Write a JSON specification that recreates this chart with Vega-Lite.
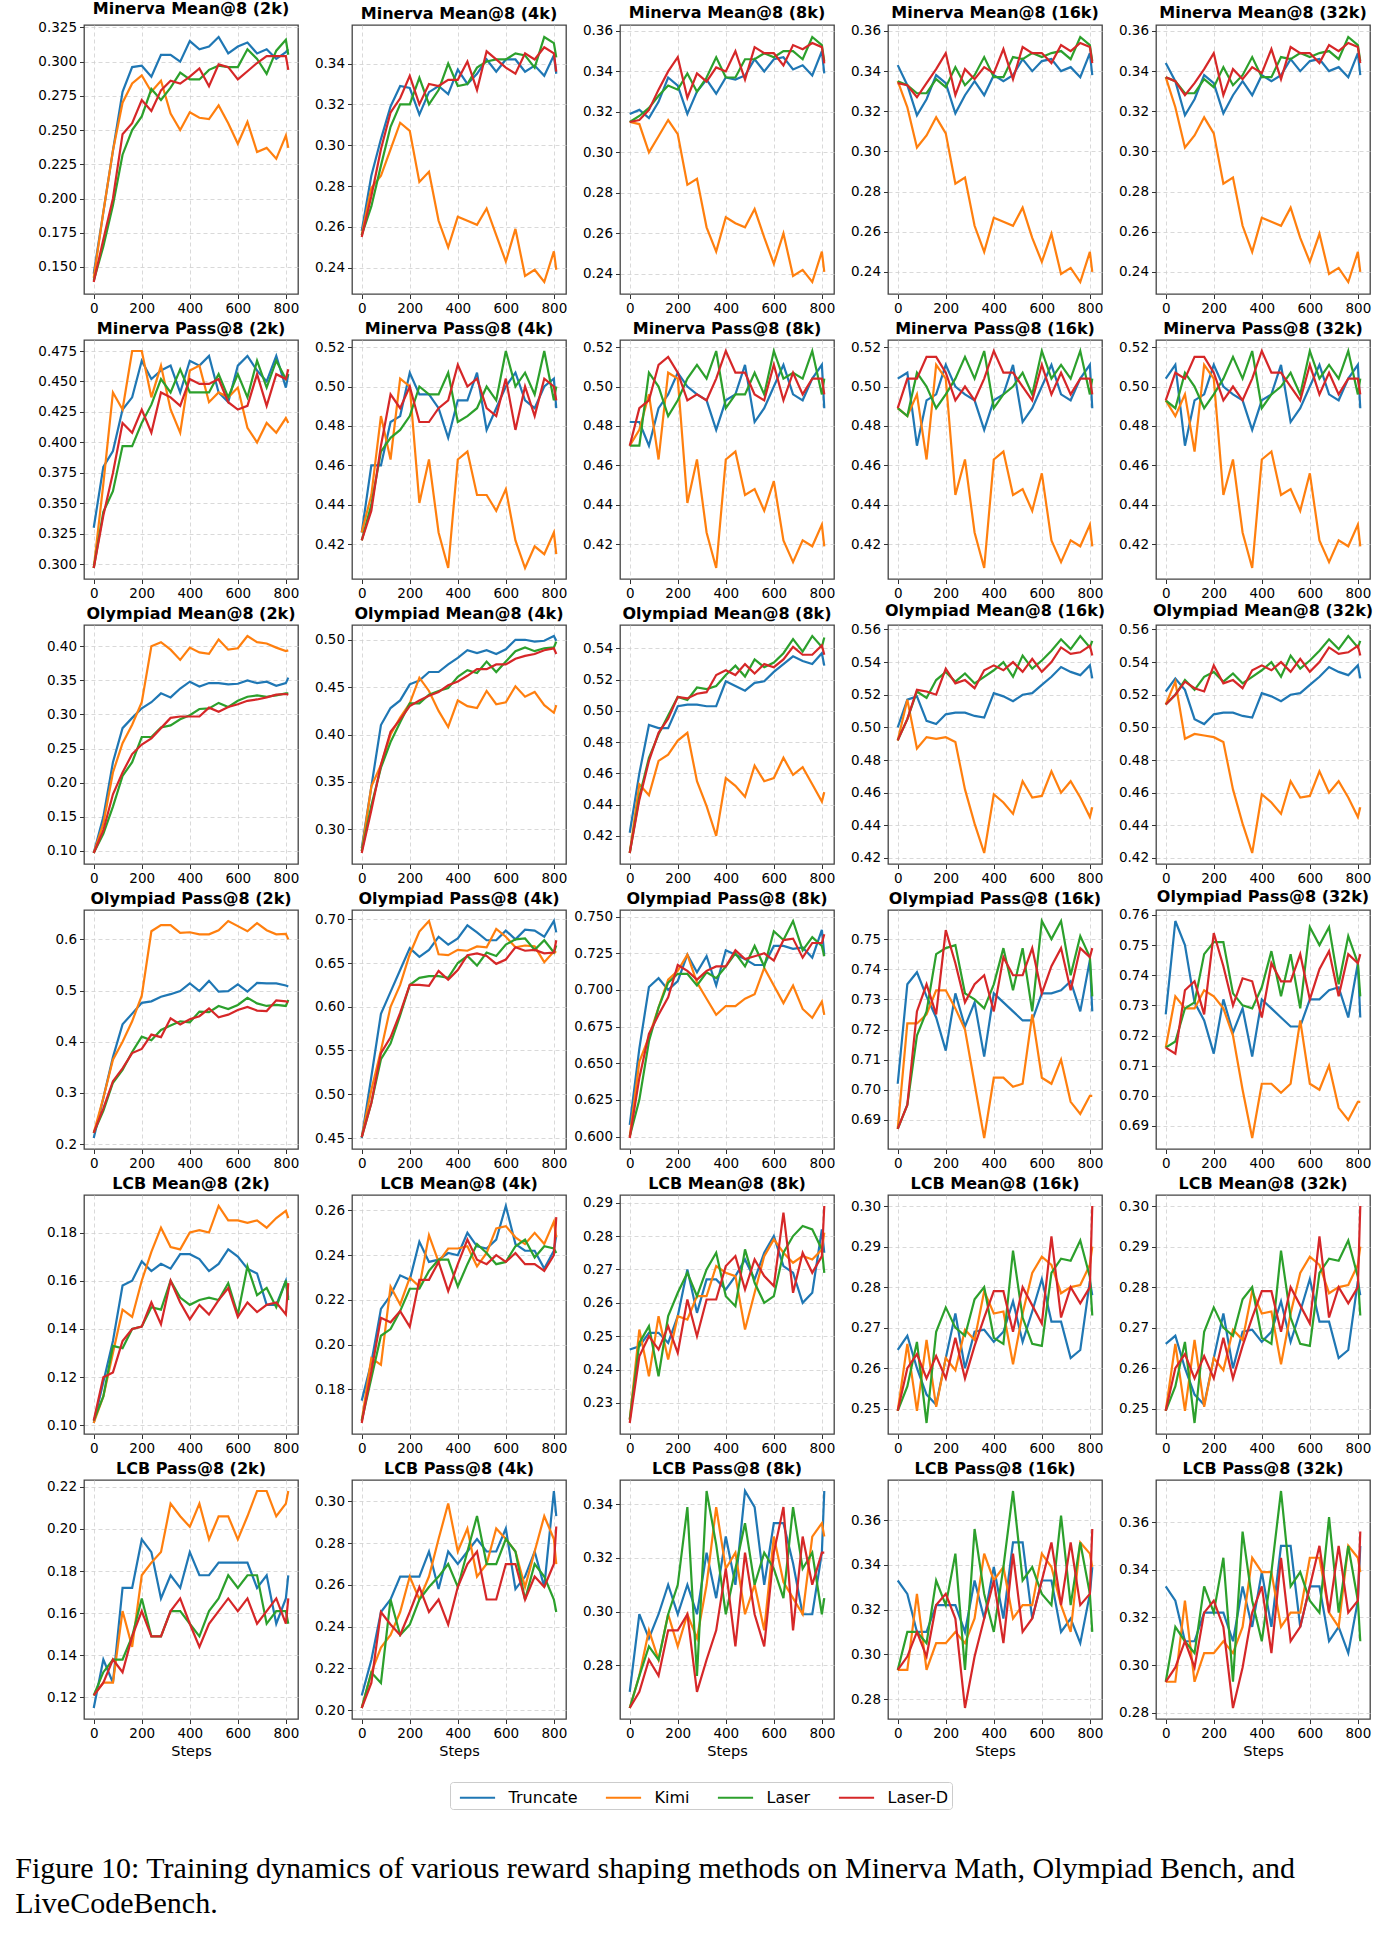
{"$schema":"https://vega.github.io/schema/vega-lite/v6.json",
"background":"white",
"padding":{"left":15,"top":0,"right":5,"bottom":5},
"bounds":"flush",
"align":"each",
"columns":5,
"spacing":{"row":46,"column":54},
"data":{"values":[
{"p":1,"x":0,"Truncate":0.145,"Kimi":0.142,"Laser":0.14,"Laser-D":0.139},
{"p":1,"x":40,"Truncate":0.19,"Kimi":0.19,"Laser":0.165,"Laser-D":0.17},
{"p":1,"x":80,"Truncate":0.235,"Kimi":0.235,"Laser":0.195,"Laser-D":0.2},
{"p":1,"x":120,"Truncate":0.278,"Kimi":0.27,"Laser":0.232,"Laser-D":0.247},
{"p":1,"x":160,"Truncate":0.296,"Kimi":0.284,"Laser":0.25,"Laser-D":0.255},
{"p":1,"x":200,"Truncate":0.297,"Kimi":0.29,"Laser":0.26,"Laser-D":0.272},
{"p":1,"x":240,"Truncate":0.289,"Kimi":0.278,"Laser":0.28,"Laser-D":0.264},
{"p":1,"x":280,"Truncate":0.305,"Kimi":0.286,"Laser":0.272,"Laser-D":0.279},
{"p":1,"x":320,"Truncate":0.305,"Kimi":0.262,"Laser":0.281,"Laser-D":0.286},
{"p":1,"x":360,"Truncate":0.3,"Kimi":0.25,"Laser":0.292,"Laser-D":0.284},
{"p":1,"x":400,"Truncate":0.315,"Kimi":0.263,"Laser":0.287,"Laser-D":0.289},
{"p":1,"x":440,"Truncate":0.309,"Kimi":0.259,"Laser":0.287,"Laser-D":0.295},
{"p":1,"x":480,"Truncate":0.311,"Kimi":0.258,"Laser":0.294,"Laser-D":0.282},
{"p":1,"x":520,"Truncate":0.318,"Kimi":0.268,"Laser":0.297,"Laser-D":0.298},
{"p":1,"x":560,"Truncate":0.306,"Kimi":0.255,"Laser":0.296,"Laser-D":0.296},
{"p":1,"x":600,"Truncate":0.311,"Kimi":0.24,"Laser":0.296,"Laser-D":0.287},
{"p":1,"x":640,"Truncate":0.314,"Kimi":0.256,"Laser":0.309,"Laser-D":0.293},
{"p":1,"x":680,"Truncate":0.306,"Kimi":0.234,"Laser":0.302,"Laser-D":0.299},
{"p":1,"x":720,"Truncate":0.309,"Kimi":0.237,"Laser":0.291,"Laser-D":0.304},
{"p":1,"x":760,"Truncate":0.302,"Kimi":0.229,"Laser":0.308,"Laser-D":0.304},
{"p":1,"x":800,"Truncate":0.307,"Kimi":0.246,"Laser":0.316,"Laser-D":0.304},
{"p":1,"x":810,"Truncate":0.309,"Kimi":0.237,"Laser":0.305,"Laser-D":0.294},
{"p":2,"x":0,"Truncate":0.258,"Kimi":0.256,"Laser":0.256,"Laser-D":0.255},
{"p":2,"x":40,"Truncate":0.285,"Kimi":0.279,"Laser":0.27,"Laser-D":0.275},
{"p":2,"x":80,"Truncate":0.303,"Kimi":0.285,"Laser":0.29,"Laser-D":0.298},
{"p":2,"x":120,"Truncate":0.319,"Kimi":0.298,"Laser":0.309,"Laser-D":0.316},
{"p":2,"x":160,"Truncate":0.329,"Kimi":0.311,"Laser":0.32,"Laser-D":0.323},
{"p":2,"x":200,"Truncate":0.328,"Kimi":0.307,"Laser":0.32,"Laser-D":0.334},
{"p":2,"x":240,"Truncate":0.315,"Kimi":0.282,"Laser":0.333,"Laser-D":0.32},
{"p":2,"x":280,"Truncate":0.326,"Kimi":0.287,"Laser":0.32,"Laser-D":0.33},
{"p":2,"x":320,"Truncate":0.329,"Kimi":0.263,"Laser":0.327,"Laser-D":0.329},
{"p":2,"x":360,"Truncate":0.325,"Kimi":0.25,"Laser":0.34,"Laser-D":0.332},
{"p":2,"x":400,"Truncate":0.337,"Kimi":0.265,"Laser":0.329,"Laser-D":0.332},
{"p":2,"x":440,"Truncate":0.33,"Kimi":0.263,"Laser":0.33,"Laser-D":0.341},
{"p":2,"x":480,"Truncate":0.335,"Kimi":0.261,"Laser":0.338,"Laser-D":0.327},
{"p":2,"x":520,"Truncate":0.342,"Kimi":0.269,"Laser":0.341,"Laser-D":0.346},
{"p":2,"x":560,"Truncate":0.336,"Kimi":0.256,"Laser":0.342,"Laser-D":0.342},
{"p":2,"x":600,"Truncate":0.342,"Kimi":0.243,"Laser":0.342,"Laser-D":0.338},
{"p":2,"x":640,"Truncate":0.342,"Kimi":0.259,"Laser":0.345,"Laser-D":0.335},
{"p":2,"x":680,"Truncate":0.336,"Kimi":0.236,"Laser":0.344,"Laser-D":0.345},
{"p":2,"x":720,"Truncate":0.339,"Kimi":0.239,"Laser":0.338,"Laser-D":0.342},
{"p":2,"x":760,"Truncate":0.334,"Kimi":0.233,"Laser":0.353,"Laser-D":0.348},
{"p":2,"x":800,"Truncate":0.344,"Kimi":0.248,"Laser":0.35,"Laser-D":0.345},
{"p":2,"x":810,"Truncate":0.335,"Kimi":0.239,"Laser":0.343,"Laser-D":0.336},
{"p":3,"x":0,"Truncate":0.319,"Kimi":0.315,"Laser":0.315,"Laser-D":0.315},
{"p":3,"x":40,"Truncate":0.321,"Kimi":0.314,"Laser":0.318,"Laser-D":0.316},
{"p":3,"x":80,"Truncate":0.317,"Kimi":0.3,"Laser":0.322,"Laser-D":0.321},
{"p":3,"x":120,"Truncate":0.325,"Kimi":0.308,"Laser":0.328,"Laser-D":0.331},
{"p":3,"x":160,"Truncate":0.337,"Kimi":0.316,"Laser":0.333,"Laser-D":0.34},
{"p":3,"x":200,"Truncate":0.333,"Kimi":0.309,"Laser":0.331,"Laser-D":0.347},
{"p":3,"x":240,"Truncate":0.319,"Kimi":0.284,"Laser":0.339,"Laser-D":0.327},
{"p":3,"x":280,"Truncate":0.33,"Kimi":0.287,"Laser":0.33,"Laser-D":0.339},
{"p":3,"x":320,"Truncate":0.336,"Kimi":0.263,"Laser":0.337,"Laser-D":0.335},
{"p":3,"x":360,"Truncate":0.329,"Kimi":0.251,"Laser":0.347,"Laser-D":0.342},
{"p":3,"x":400,"Truncate":0.337,"Kimi":0.268,"Laser":0.337,"Laser-D":0.34},
{"p":3,"x":440,"Truncate":0.336,"Kimi":0.265,"Laser":0.337,"Laser-D":0.35},
{"p":3,"x":480,"Truncate":0.338,"Kimi":0.263,"Laser":0.346,"Laser-D":0.336},
{"p":3,"x":520,"Truncate":0.346,"Kimi":0.272,"Laser":0.346,"Laser-D":0.352},
{"p":3,"x":560,"Truncate":0.34,"Kimi":0.258,"Laser":0.349,"Laser-D":0.349},
{"p":3,"x":600,"Truncate":0.346,"Kimi":0.245,"Laser":0.347,"Laser-D":0.349},
{"p":3,"x":640,"Truncate":0.347,"Kimi":0.26,"Laser":0.35,"Laser-D":0.343},
{"p":3,"x":680,"Truncate":0.341,"Kimi":0.239,"Laser":0.35,"Laser-D":0.353},
{"p":3,"x":720,"Truncate":0.343,"Kimi":0.242,"Laser":0.346,"Laser-D":0.351},
{"p":3,"x":760,"Truncate":0.338,"Kimi":0.236,"Laser":0.357,"Laser-D":0.354},
{"p":3,"x":800,"Truncate":0.35,"Kimi":0.251,"Laser":0.353,"Laser-D":0.352},
{"p":3,"x":810,"Truncate":0.339,"Kimi":0.241,"Laser":0.345,"Laser-D":0.344},
{"p":4,"x":0,"Truncate":0.343,"Kimi":0.335,"Laser":0.335,"Laser-D":0.334},
{"p":4,"x":40,"Truncate":0.333,"Kimi":0.322,"Laser":0.333,"Laser-D":0.333},
{"p":4,"x":80,"Truncate":0.318,"Kimi":0.302,"Laser":0.329,"Laser-D":0.327},
{"p":4,"x":120,"Truncate":0.326,"Kimi":0.308,"Laser":0.329,"Laser-D":0.334},
{"p":4,"x":160,"Truncate":0.338,"Kimi":0.317,"Laser":0.336,"Laser-D":0.341},
{"p":4,"x":200,"Truncate":0.334,"Kimi":0.309,"Laser":0.332,"Laser-D":0.349},
{"p":4,"x":240,"Truncate":0.319,"Kimi":0.284,"Laser":0.342,"Laser-D":0.328},
{"p":4,"x":280,"Truncate":0.328,"Kimi":0.287,"Laser":0.333,"Laser-D":0.341},
{"p":4,"x":320,"Truncate":0.335,"Kimi":0.263,"Laser":0.338,"Laser-D":0.336},
{"p":4,"x":360,"Truncate":0.328,"Kimi":0.25,"Laser":0.347,"Laser-D":0.342},
{"p":4,"x":400,"Truncate":0.338,"Kimi":0.267,"Laser":0.337,"Laser-D":0.339},
{"p":4,"x":440,"Truncate":0.335,"Kimi":0.265,"Laser":0.337,"Laser-D":0.351},
{"p":4,"x":480,"Truncate":0.338,"Kimi":0.263,"Laser":0.347,"Laser-D":0.336},
{"p":4,"x":520,"Truncate":0.346,"Kimi":0.272,"Laser":0.346,"Laser-D":0.352},
{"p":4,"x":560,"Truncate":0.34,"Kimi":0.257,"Laser":0.349,"Laser-D":0.349},
{"p":4,"x":600,"Truncate":0.345,"Kimi":0.245,"Laser":0.347,"Laser-D":0.349},
{"p":4,"x":640,"Truncate":0.346,"Kimi":0.259,"Laser":0.349,"Laser-D":0.344},
{"p":4,"x":680,"Truncate":0.34,"Kimi":0.239,"Laser":0.35,"Laser-D":0.353},
{"p":4,"x":720,"Truncate":0.342,"Kimi":0.242,"Laser":0.346,"Laser-D":0.35},
{"p":4,"x":760,"Truncate":0.337,"Kimi":0.235,"Laser":0.357,"Laser-D":0.354},
{"p":4,"x":800,"Truncate":0.349,"Kimi":0.25,"Laser":0.353,"Laser-D":0.352},
{"p":4,"x":810,"Truncate":0.338,"Kimi":0.24,"Laser":0.345,"Laser-D":0.344},
{"p":5,"x":0,"Truncate":0.344,"Kimi":0.337,"Laser":0.337,"Laser-D":0.337},
{"p":5,"x":40,"Truncate":0.335,"Kimi":0.322,"Laser":0.335,"Laser-D":0.335},
{"p":5,"x":80,"Truncate":0.318,"Kimi":0.302,"Laser":0.329,"Laser-D":0.328},
{"p":5,"x":120,"Truncate":0.326,"Kimi":0.308,"Laser":0.329,"Laser-D":0.334},
{"p":5,"x":160,"Truncate":0.338,"Kimi":0.317,"Laser":0.336,"Laser-D":0.341},
{"p":5,"x":200,"Truncate":0.334,"Kimi":0.309,"Laser":0.332,"Laser-D":0.349},
{"p":5,"x":240,"Truncate":0.319,"Kimi":0.284,"Laser":0.342,"Laser-D":0.328},
{"p":5,"x":280,"Truncate":0.328,"Kimi":0.287,"Laser":0.333,"Laser-D":0.341},
{"p":5,"x":320,"Truncate":0.335,"Kimi":0.263,"Laser":0.338,"Laser-D":0.336},
{"p":5,"x":360,"Truncate":0.328,"Kimi":0.25,"Laser":0.347,"Laser-D":0.342},
{"p":5,"x":400,"Truncate":0.338,"Kimi":0.267,"Laser":0.337,"Laser-D":0.339},
{"p":5,"x":440,"Truncate":0.335,"Kimi":0.265,"Laser":0.337,"Laser-D":0.351},
{"p":5,"x":480,"Truncate":0.338,"Kimi":0.263,"Laser":0.347,"Laser-D":0.336},
{"p":5,"x":520,"Truncate":0.346,"Kimi":0.272,"Laser":0.346,"Laser-D":0.352},
{"p":5,"x":560,"Truncate":0.34,"Kimi":0.257,"Laser":0.349,"Laser-D":0.349},
{"p":5,"x":600,"Truncate":0.345,"Kimi":0.245,"Laser":0.347,"Laser-D":0.349},
{"p":5,"x":640,"Truncate":0.346,"Kimi":0.259,"Laser":0.349,"Laser-D":0.344},
{"p":5,"x":680,"Truncate":0.34,"Kimi":0.239,"Laser":0.35,"Laser-D":0.353},
{"p":5,"x":720,"Truncate":0.342,"Kimi":0.242,"Laser":0.346,"Laser-D":0.35},
{"p":5,"x":760,"Truncate":0.337,"Kimi":0.235,"Laser":0.357,"Laser-D":0.354},
{"p":5,"x":800,"Truncate":0.349,"Kimi":0.25,"Laser":0.353,"Laser-D":0.352},
{"p":5,"x":810,"Truncate":0.338,"Kimi":0.24,"Laser":0.345,"Laser-D":0.344},
{"p":6,"x":0,"Truncate":0.33,"Kimi":0.297,"Laser":0.297,"Laser-D":0.297},
{"p":6,"x":40,"Truncate":0.38,"Kimi":0.366,"Laser":0.343,"Laser-D":0.34},
{"p":6,"x":80,"Truncate":0.393,"Kimi":0.441,"Laser":0.36,"Laser-D":0.375},
{"p":6,"x":120,"Truncate":0.427,"Kimi":0.427,"Laser":0.397,"Laser-D":0.416},
{"p":6,"x":160,"Truncate":0.437,"Kimi":0.475,"Laser":0.397,"Laser-D":0.408},
{"p":6,"x":200,"Truncate":0.467,"Kimi":0.475,"Laser":0.416,"Laser-D":0.427},
{"p":6,"x":240,"Truncate":0.452,"Kimi":0.437,"Laser":0.431,"Laser-D":0.408},
{"p":6,"x":280,"Truncate":0.459,"Kimi":0.463,"Laser":0.452,"Laser-D":0.441},
{"p":6,"x":320,"Truncate":0.463,"Kimi":0.427,"Laser":0.441,"Laser-D":0.437},
{"p":6,"x":360,"Truncate":0.441,"Kimi":0.408,"Laser":0.46,"Laser-D":0.43},
{"p":6,"x":400,"Truncate":0.467,"Kimi":0.459,"Laser":0.441,"Laser-D":0.452},
{"p":6,"x":440,"Truncate":0.463,"Kimi":0.463,"Laser":0.441,"Laser-D":0.448},
{"p":6,"x":480,"Truncate":0.471,"Kimi":0.433,"Laser":0.441,"Laser-D":0.448},
{"p":6,"x":520,"Truncate":0.441,"Kimi":0.441,"Laser":0.456,"Laser-D":0.452},
{"p":6,"x":560,"Truncate":0.433,"Kimi":0.437,"Laser":0.437,"Laser-D":0.433},
{"p":6,"x":600,"Truncate":0.463,"Kimi":0.445,"Laser":0.456,"Laser-D":0.427},
{"p":6,"x":640,"Truncate":0.471,"Kimi":0.412,"Laser":0.437,"Laser-D":0.43},
{"p":6,"x":680,"Truncate":0.459,"Kimi":0.4,"Laser":0.467,"Laser-D":0.456},
{"p":6,"x":720,"Truncate":0.45,"Kimi":0.416,"Laser":0.445,"Laser-D":0.43},
{"p":6,"x":760,"Truncate":0.471,"Kimi":0.408,"Laser":0.467,"Laser-D":0.456},
{"p":6,"x":800,"Truncate":0.445,"Kimi":0.42,"Laser":0.452,"Laser-D":0.452},
{"p":6,"x":810,"Truncate":0.456,"Kimi":0.416,"Laser":0.456,"Laser-D":0.46},
{"p":7,"x":0,"Truncate":0.426,"Kimi":0.426,"Laser":0.422,"Laser-D":0.422},
{"p":7,"x":40,"Truncate":0.46,"Kimi":0.445,"Laser":0.44,"Laser-D":0.437},
{"p":7,"x":80,"Truncate":0.46,"Kimi":0.485,"Laser":0.467,"Laser-D":0.47},
{"p":7,"x":120,"Truncate":0.482,"Kimi":0.463,"Laser":0.474,"Laser-D":0.496},
{"p":7,"x":160,"Truncate":0.485,"Kimi":0.504,"Laser":0.478,"Laser-D":0.489},
{"p":7,"x":200,"Truncate":0.507,"Kimi":0.5,"Laser":0.485,"Laser-D":0.5},
{"p":7,"x":240,"Truncate":0.496,"Kimi":0.441,"Laser":0.5,"Laser-D":0.482},
{"p":7,"x":280,"Truncate":0.496,"Kimi":0.463,"Laser":0.496,"Laser-D":0.482},
{"p":7,"x":320,"Truncate":0.489,"Kimi":0.426,"Laser":0.496,"Laser-D":0.489},
{"p":7,"x":360,"Truncate":0.474,"Kimi":0.408,"Laser":0.507,"Laser-D":0.493},
{"p":7,"x":400,"Truncate":0.493,"Kimi":0.463,"Laser":0.482,"Laser-D":0.511},
{"p":7,"x":440,"Truncate":0.493,"Kimi":0.467,"Laser":0.485,"Laser-D":0.5},
{"p":7,"x":480,"Truncate":0.507,"Kimi":0.445,"Laser":0.489,"Laser-D":0.504},
{"p":7,"x":520,"Truncate":0.478,"Kimi":0.445,"Laser":0.5,"Laser-D":0.489},
{"p":7,"x":560,"Truncate":0.489,"Kimi":0.437,"Laser":0.493,"Laser-D":0.485},
{"p":7,"x":600,"Truncate":0.5,"Kimi":0.448,"Laser":0.518,"Laser-D":0.504},
{"p":7,"x":640,"Truncate":0.507,"Kimi":0.422,"Laser":0.5,"Laser-D":0.478},
{"p":7,"x":680,"Truncate":0.493,"Kimi":0.408,"Laser":0.507,"Laser-D":0.5},
{"p":7,"x":720,"Truncate":0.489,"Kimi":0.419,"Laser":0.496,"Laser-D":0.485},
{"p":7,"x":760,"Truncate":0.5,"Kimi":0.415,"Laser":0.518,"Laser-D":0.504},
{"p":7,"x":800,"Truncate":0.504,"Kimi":0.426,"Laser":0.493,"Laser-D":0.5},
{"p":7,"x":810,"Truncate":0.489,"Kimi":0.415,"Laser":0.5,"Laser-D":0.493},
{"p":8,"x":0,"Truncate":0.482,"Kimi":0.47,"Laser":0.47,"Laser-D":0.47},
{"p":8,"x":40,"Truncate":0.482,"Kimi":0.478,"Laser":0.47,"Laser-D":0.489},
{"p":8,"x":80,"Truncate":0.47,"Kimi":0.496,"Laser":0.507,"Laser-D":0.493},
{"p":8,"x":120,"Truncate":0.489,"Kimi":0.463,"Laser":0.5,"Laser-D":0.511},
{"p":8,"x":160,"Truncate":0.496,"Kimi":0.507,"Laser":0.485,"Laser-D":0.515},
{"p":8,"x":200,"Truncate":0.507,"Kimi":0.504,"Laser":0.493,"Laser-D":0.507},
{"p":8,"x":240,"Truncate":0.5,"Kimi":0.441,"Laser":0.504,"Laser-D":0.493},
{"p":8,"x":280,"Truncate":0.496,"Kimi":0.463,"Laser":0.511,"Laser-D":0.496},
{"p":8,"x":320,"Truncate":0.493,"Kimi":0.426,"Laser":0.504,"Laser-D":0.493},
{"p":8,"x":360,"Truncate":0.478,"Kimi":0.408,"Laser":0.518,"Laser-D":0.504},
{"p":8,"x":400,"Truncate":0.493,"Kimi":0.463,"Laser":0.489,"Laser-D":0.518},
{"p":8,"x":440,"Truncate":0.496,"Kimi":0.467,"Laser":0.496,"Laser-D":0.507},
{"p":8,"x":480,"Truncate":0.511,"Kimi":0.445,"Laser":0.496,"Laser-D":0.507},
{"p":8,"x":520,"Truncate":0.482,"Kimi":0.448,"Laser":0.507,"Laser-D":0.496},
{"p":8,"x":560,"Truncate":0.489,"Kimi":0.437,"Laser":0.496,"Laser-D":0.493},
{"p":8,"x":600,"Truncate":0.5,"Kimi":0.452,"Laser":0.518,"Laser-D":0.511},
{"p":8,"x":640,"Truncate":0.511,"Kimi":0.422,"Laser":0.504,"Laser-D":0.493},
{"p":8,"x":680,"Truncate":0.496,"Kimi":0.411,"Laser":0.507,"Laser-D":0.507},
{"p":8,"x":720,"Truncate":0.493,"Kimi":0.422,"Laser":0.504,"Laser-D":0.496},
{"p":8,"x":760,"Truncate":0.504,"Kimi":0.419,"Laser":0.518,"Laser-D":0.504},
{"p":8,"x":800,"Truncate":0.511,"Kimi":0.43,"Laser":0.496,"Laser-D":0.504},
{"p":8,"x":810,"Truncate":0.489,"Kimi":0.419,"Laser":0.504,"Laser-D":0.496},
{"p":9,"x":0,"Truncate":0.504,"Kimi":0.489,"Laser":0.489,"Laser-D":0.489},
{"p":9,"x":40,"Truncate":0.507,"Kimi":0.485,"Laser":0.485,"Laser-D":0.504},
{"p":9,"x":80,"Truncate":0.47,"Kimi":0.496,"Laser":0.507,"Laser-D":0.504},
{"p":9,"x":120,"Truncate":0.493,"Kimi":0.463,"Laser":0.5,"Laser-D":0.515},
{"p":9,"x":160,"Truncate":0.496,"Kimi":0.511,"Laser":0.489,"Laser-D":0.515},
{"p":9,"x":200,"Truncate":0.511,"Kimi":0.504,"Laser":0.496,"Laser-D":0.507},
{"p":9,"x":240,"Truncate":0.5,"Kimi":0.445,"Laser":0.504,"Laser-D":0.493},
{"p":9,"x":280,"Truncate":0.496,"Kimi":0.463,"Laser":0.515,"Laser-D":0.5},
{"p":9,"x":320,"Truncate":0.493,"Kimi":0.426,"Laser":0.504,"Laser-D":0.493},
{"p":9,"x":360,"Truncate":0.478,"Kimi":0.408,"Laser":0.518,"Laser-D":0.504},
{"p":9,"x":400,"Truncate":0.493,"Kimi":0.463,"Laser":0.489,"Laser-D":0.518},
{"p":9,"x":440,"Truncate":0.496,"Kimi":0.467,"Laser":0.496,"Laser-D":0.507},
{"p":9,"x":480,"Truncate":0.511,"Kimi":0.445,"Laser":0.5,"Laser-D":0.507},
{"p":9,"x":520,"Truncate":0.482,"Kimi":0.448,"Laser":0.507,"Laser-D":0.5},
{"p":9,"x":560,"Truncate":0.489,"Kimi":0.437,"Laser":0.496,"Laser-D":0.493},
{"p":9,"x":600,"Truncate":0.5,"Kimi":0.456,"Laser":0.518,"Laser-D":0.511},
{"p":9,"x":640,"Truncate":0.511,"Kimi":0.422,"Laser":0.504,"Laser-D":0.496},
{"p":9,"x":680,"Truncate":0.496,"Kimi":0.411,"Laser":0.511,"Laser-D":0.507},
{"p":9,"x":720,"Truncate":0.493,"Kimi":0.422,"Laser":0.504,"Laser-D":0.496},
{"p":9,"x":760,"Truncate":0.504,"Kimi":0.419,"Laser":0.518,"Laser-D":0.504},
{"p":9,"x":800,"Truncate":0.511,"Kimi":0.43,"Laser":0.496,"Laser-D":0.504},
{"p":9,"x":810,"Truncate":0.489,"Kimi":0.419,"Laser":0.504,"Laser-D":0.496},
{"p":10,"x":0,"Truncate":0.504,"Kimi":0.493,"Laser":0.493,"Laser-D":0.493},
{"p":10,"x":40,"Truncate":0.511,"Kimi":0.485,"Laser":0.489,"Laser-D":0.507},
{"p":10,"x":80,"Truncate":0.47,"Kimi":0.496,"Laser":0.507,"Laser-D":0.504},
{"p":10,"x":120,"Truncate":0.493,"Kimi":0.467,"Laser":0.5,"Laser-D":0.515},
{"p":10,"x":160,"Truncate":0.496,"Kimi":0.511,"Laser":0.489,"Laser-D":0.515},
{"p":10,"x":200,"Truncate":0.511,"Kimi":0.504,"Laser":0.496,"Laser-D":0.507},
{"p":10,"x":240,"Truncate":0.5,"Kimi":0.445,"Laser":0.504,"Laser-D":0.493},
{"p":10,"x":280,"Truncate":0.496,"Kimi":0.463,"Laser":0.515,"Laser-D":0.5},
{"p":10,"x":320,"Truncate":0.493,"Kimi":0.426,"Laser":0.504,"Laser-D":0.493},
{"p":10,"x":360,"Truncate":0.478,"Kimi":0.408,"Laser":0.518,"Laser-D":0.504},
{"p":10,"x":400,"Truncate":0.493,"Kimi":0.463,"Laser":0.489,"Laser-D":0.518},
{"p":10,"x":440,"Truncate":0.496,"Kimi":0.467,"Laser":0.496,"Laser-D":0.507},
{"p":10,"x":480,"Truncate":0.511,"Kimi":0.445,"Laser":0.5,"Laser-D":0.507},
{"p":10,"x":520,"Truncate":0.482,"Kimi":0.448,"Laser":0.507,"Laser-D":0.5},
{"p":10,"x":560,"Truncate":0.489,"Kimi":0.437,"Laser":0.496,"Laser-D":0.493},
{"p":10,"x":600,"Truncate":0.5,"Kimi":0.456,"Laser":0.518,"Laser-D":0.511},
{"p":10,"x":640,"Truncate":0.511,"Kimi":0.422,"Laser":0.504,"Laser-D":0.496},
{"p":10,"x":680,"Truncate":0.496,"Kimi":0.411,"Laser":0.511,"Laser-D":0.507},
{"p":10,"x":720,"Truncate":0.493,"Kimi":0.422,"Laser":0.504,"Laser-D":0.496},
{"p":10,"x":760,"Truncate":0.504,"Kimi":0.419,"Laser":0.518,"Laser-D":0.504},
{"p":10,"x":800,"Truncate":0.511,"Kimi":0.43,"Laser":0.496,"Laser-D":0.504},
{"p":10,"x":810,"Truncate":0.489,"Kimi":0.419,"Laser":0.504,"Laser-D":0.496},
{"p":11,"x":0,"Truncate":0.097,"Kimi":0.097,"Laser":0.097,"Laser-D":0.097},
{"p":11,"x":40,"Truncate":0.15,"Kimi":0.14,"Laser":0.125,"Laser-D":0.13},
{"p":11,"x":80,"Truncate":0.23,"Kimi":0.215,"Laser":0.165,"Laser-D":0.183},
{"p":11,"x":120,"Truncate":0.28,"Kimi":0.258,"Laser":0.21,"Laser-D":0.215},
{"p":11,"x":160,"Truncate":0.295,"Kimi":0.285,"Laser":0.23,"Laser-D":0.242},
{"p":11,"x":200,"Truncate":0.309,"Kimi":0.318,"Laser":0.267,"Laser-D":0.256},
{"p":11,"x":240,"Truncate":0.318,"Kimi":0.4,"Laser":0.267,"Laser-D":0.265},
{"p":11,"x":280,"Truncate":0.331,"Kimi":0.406,"Laser":0.281,"Laser-D":0.28},
{"p":11,"x":320,"Truncate":0.325,"Kimi":0.395,"Laser":0.284,"Laser-D":0.295},
{"p":11,"x":360,"Truncate":0.338,"Kimi":0.38,"Laser":0.293,"Laser-D":0.297},
{"p":11,"x":400,"Truncate":0.348,"Kimi":0.398,"Laser":0.299,"Laser-D":0.297},
{"p":11,"x":440,"Truncate":0.341,"Kimi":0.391,"Laser":0.308,"Laser-D":0.297},
{"p":11,"x":480,"Truncate":0.346,"Kimi":0.389,"Laser":0.309,"Laser-D":0.31},
{"p":11,"x":520,"Truncate":0.346,"Kimi":0.41,"Laser":0.317,"Laser-D":0.304},
{"p":11,"x":560,"Truncate":0.344,"Kimi":0.395,"Laser":0.311,"Laser-D":0.311},
{"p":11,"x":600,"Truncate":0.345,"Kimi":0.397,"Laser":0.32,"Laser-D":0.315},
{"p":11,"x":640,"Truncate":0.35,"Kimi":0.415,"Laser":0.326,"Laser-D":0.32},
{"p":11,"x":680,"Truncate":0.346,"Kimi":0.406,"Laser":0.328,"Laser-D":0.322},
{"p":11,"x":720,"Truncate":0.348,"Kimi":0.404,"Laser":0.326,"Laser-D":0.325},
{"p":11,"x":760,"Truncate":0.342,"Kimi":0.398,"Laser":0.328,"Laser-D":0.329},
{"p":11,"x":800,"Truncate":0.346,"Kimi":0.393,"Laser":0.331,"Laser-D":0.33},
{"p":11,"x":810,"Truncate":0.354,"Kimi":0.394,"Laser":0.331,"Laser-D":0.329},
{"p":12,"x":0,"Truncate":0.28,"Kimi":0.277,"Laser":0.277,"Laser-D":0.275},
{"p":12,"x":40,"Truncate":0.345,"Kimi":0.345,"Laser":0.325,"Laser-D":0.32},
{"p":12,"x":80,"Truncate":0.41,"Kimi":0.368,"Laser":0.365,"Laser-D":0.368},
{"p":12,"x":120,"Truncate":0.428,"Kimi":0.4,"Laser":0.392,"Laser-D":0.403},
{"p":12,"x":160,"Truncate":0.436,"Kimi":0.418,"Laser":0.413,"Laser-D":0.416},
{"p":12,"x":200,"Truncate":0.453,"Kimi":0.433,"Laser":0.433,"Laser-D":0.43},
{"p":12,"x":240,"Truncate":0.457,"Kimi":0.46,"Laser":0.433,"Laser-D":0.436},
{"p":12,"x":280,"Truncate":0.466,"Kimi":0.446,"Laser":0.442,"Laser-D":0.441},
{"p":12,"x":320,"Truncate":0.466,"Kimi":0.425,"Laser":0.446,"Laser-D":0.445},
{"p":12,"x":360,"Truncate":0.474,"Kimi":0.408,"Laser":0.449,"Laser-D":0.452},
{"p":12,"x":400,"Truncate":0.481,"Kimi":0.436,"Laser":0.461,"Laser-D":0.456},
{"p":12,"x":440,"Truncate":0.489,"Kimi":0.43,"Laser":0.468,"Laser-D":0.462},
{"p":12,"x":480,"Truncate":0.486,"Kimi":0.428,"Laser":0.465,"Laser-D":0.469},
{"p":12,"x":520,"Truncate":0.489,"Kimi":0.446,"Laser":0.477,"Laser-D":0.469},
{"p":12,"x":560,"Truncate":0.485,"Kimi":0.432,"Laser":0.466,"Laser-D":0.474},
{"p":12,"x":600,"Truncate":0.49,"Kimi":0.434,"Laser":0.477,"Laser-D":0.474},
{"p":12,"x":640,"Truncate":0.5,"Kimi":0.451,"Laser":0.488,"Laser-D":0.48},
{"p":12,"x":680,"Truncate":0.5,"Kimi":0.44,"Laser":0.492,"Laser-D":0.483},
{"p":12,"x":720,"Truncate":0.498,"Kimi":0.445,"Laser":0.488,"Laser-D":0.485},
{"p":12,"x":760,"Truncate":0.499,"Kimi":0.431,"Laser":0.491,"Laser-D":0.489},
{"p":12,"x":800,"Truncate":0.504,"Kimi":0.423,"Laser":0.492,"Laser-D":0.491},
{"p":12,"x":810,"Truncate":0.499,"Kimi":0.431,"Laser":0.498,"Laser-D":0.485},
{"p":13,"x":0,"Truncate":0.422,"Kimi":0.409,"Laser":0.409,"Laser-D":0.409},
{"p":13,"x":40,"Truncate":0.46,"Kimi":0.453,"Laser":0.445,"Laser-D":0.443},
{"p":13,"x":80,"Truncate":0.491,"Kimi":0.446,"Laser":0.47,"Laser-D":0.468},
{"p":13,"x":120,"Truncate":0.489,"Kimi":0.468,"Laser":0.485,"Laser-D":0.486},
{"p":13,"x":160,"Truncate":0.489,"Kimi":0.472,"Laser":0.497,"Laser-D":0.495},
{"p":13,"x":200,"Truncate":0.503,"Kimi":0.481,"Laser":0.509,"Laser-D":0.509},
{"p":13,"x":240,"Truncate":0.504,"Kimi":0.486,"Laser":0.507,"Laser-D":0.508},
{"p":13,"x":280,"Truncate":0.504,"Kimi":0.455,"Laser":0.515,"Laser-D":0.511},
{"p":13,"x":320,"Truncate":0.503,"Kimi":0.439,"Laser":0.514,"Laser-D":0.512},
{"p":13,"x":360,"Truncate":0.503,"Kimi":0.42,"Laser":0.516,"Laser-D":0.523},
{"p":13,"x":400,"Truncate":0.519,"Kimi":0.457,"Laser":0.523,"Laser-D":0.526},
{"p":13,"x":440,"Truncate":0.516,"Kimi":0.452,"Laser":0.529,"Laser-D":0.523},
{"p":13,"x":480,"Truncate":0.513,"Kimi":0.445,"Laser":0.522,"Laser-D":0.53},
{"p":13,"x":520,"Truncate":0.518,"Kimi":0.465,"Laser":0.533,"Laser-D":0.524},
{"p":13,"x":560,"Truncate":0.519,"Kimi":0.455,"Laser":0.528,"Laser-D":0.53},
{"p":13,"x":600,"Truncate":0.525,"Kimi":0.457,"Laser":0.531,"Laser-D":0.528},
{"p":13,"x":640,"Truncate":0.53,"Kimi":0.47,"Laser":0.537,"Laser-D":0.533},
{"p":13,"x":680,"Truncate":0.535,"Kimi":0.459,"Laser":0.546,"Laser-D":0.541},
{"p":13,"x":720,"Truncate":0.532,"Kimi":0.464,"Laser":0.538,"Laser-D":0.536},
{"p":13,"x":760,"Truncate":0.53,"Kimi":0.453,"Laser":0.548,"Laser-D":0.536},
{"p":13,"x":800,"Truncate":0.537,"Kimi":0.442,"Laser":0.541,"Laser-D":0.542},
{"p":13,"x":810,"Truncate":0.529,"Kimi":0.448,"Laser":0.547,"Laser-D":0.536},
{"p":14,"x":0,"Truncate":0.5,"Kimi":0.492,"Laser":0.492,"Laser-D":0.492},
{"p":14,"x":40,"Truncate":0.517,"Kimi":0.517,"Laser":0.505,"Laser-D":0.505},
{"p":14,"x":80,"Truncate":0.519,"Kimi":0.487,"Laser":0.522,"Laser-D":0.523},
{"p":14,"x":120,"Truncate":0.504,"Kimi":0.494,"Laser":0.518,"Laser-D":0.522},
{"p":14,"x":160,"Truncate":0.502,"Kimi":0.493,"Laser":0.529,"Laser-D":0.52},
{"p":14,"x":200,"Truncate":0.508,"Kimi":0.494,"Laser":0.534,"Laser-D":0.536},
{"p":14,"x":240,"Truncate":0.509,"Kimi":0.491,"Laser":0.528,"Laser-D":0.527},
{"p":14,"x":280,"Truncate":0.509,"Kimi":0.462,"Laser":0.533,"Laser-D":0.529},
{"p":14,"x":320,"Truncate":0.507,"Kimi":0.441,"Laser":0.527,"Laser-D":0.524},
{"p":14,"x":360,"Truncate":0.506,"Kimi":0.423,"Laser":0.531,"Laser-D":0.535},
{"p":14,"x":400,"Truncate":0.521,"Kimi":0.459,"Laser":0.535,"Laser-D":0.538},
{"p":14,"x":440,"Truncate":0.519,"Kimi":0.454,"Laser":0.54,"Laser-D":0.535},
{"p":14,"x":480,"Truncate":0.516,"Kimi":0.447,"Laser":0.531,"Laser-D":0.54},
{"p":14,"x":520,"Truncate":0.52,"Kimi":0.467,"Laser":0.544,"Laser-D":0.534},
{"p":14,"x":560,"Truncate":0.521,"Kimi":0.457,"Laser":0.536,"Laser-D":0.542},
{"p":14,"x":600,"Truncate":0.526,"Kimi":0.458,"Laser":0.541,"Laser-D":0.534},
{"p":14,"x":640,"Truncate":0.531,"Kimi":0.473,"Laser":0.547,"Laser-D":0.54},
{"p":14,"x":680,"Truncate":0.537,"Kimi":0.46,"Laser":0.554,"Laser-D":0.549},
{"p":14,"x":720,"Truncate":0.534,"Kimi":0.467,"Laser":0.548,"Laser-D":0.545},
{"p":14,"x":760,"Truncate":0.532,"Kimi":0.457,"Laser":0.556,"Laser-D":0.546},
{"p":14,"x":800,"Truncate":0.538,"Kimi":0.445,"Laser":0.549,"Laser-D":0.55},
{"p":14,"x":810,"Truncate":0.53,"Kimi":0.451,"Laser":0.553,"Laser-D":0.544},
{"p":15,"x":0,"Truncate":0.522,"Kimi":0.514,"Laser":0.514,"Laser-D":0.514},
{"p":15,"x":40,"Truncate":0.53,"Kimi":0.528,"Laser":0.52,"Laser-D":0.52},
{"p":15,"x":80,"Truncate":0.523,"Kimi":0.493,"Laser":0.529,"Laser-D":0.528},
{"p":15,"x":120,"Truncate":0.505,"Kimi":0.496,"Laser":0.523,"Laser-D":0.524},
{"p":15,"x":160,"Truncate":0.502,"Kimi":0.495,"Laser":0.531,"Laser-D":0.522},
{"p":15,"x":200,"Truncate":0.508,"Kimi":0.494,"Laser":0.534,"Laser-D":0.538},
{"p":15,"x":240,"Truncate":0.509,"Kimi":0.491,"Laser":0.528,"Laser-D":0.527},
{"p":15,"x":280,"Truncate":0.509,"Kimi":0.462,"Laser":0.533,"Laser-D":0.529},
{"p":15,"x":320,"Truncate":0.507,"Kimi":0.441,"Laser":0.527,"Laser-D":0.524},
{"p":15,"x":360,"Truncate":0.506,"Kimi":0.423,"Laser":0.531,"Laser-D":0.535},
{"p":15,"x":400,"Truncate":0.521,"Kimi":0.459,"Laser":0.535,"Laser-D":0.538},
{"p":15,"x":440,"Truncate":0.519,"Kimi":0.454,"Laser":0.54,"Laser-D":0.535},
{"p":15,"x":480,"Truncate":0.516,"Kimi":0.447,"Laser":0.531,"Laser-D":0.54},
{"p":15,"x":520,"Truncate":0.52,"Kimi":0.467,"Laser":0.544,"Laser-D":0.534},
{"p":15,"x":560,"Truncate":0.521,"Kimi":0.457,"Laser":0.536,"Laser-D":0.542},
{"p":15,"x":600,"Truncate":0.526,"Kimi":0.458,"Laser":0.541,"Laser-D":0.534},
{"p":15,"x":640,"Truncate":0.531,"Kimi":0.473,"Laser":0.547,"Laser-D":0.54},
{"p":15,"x":680,"Truncate":0.537,"Kimi":0.46,"Laser":0.554,"Laser-D":0.549},
{"p":15,"x":720,"Truncate":0.534,"Kimi":0.467,"Laser":0.548,"Laser-D":0.545},
{"p":15,"x":760,"Truncate":0.532,"Kimi":0.457,"Laser":0.556,"Laser-D":0.546},
{"p":15,"x":800,"Truncate":0.538,"Kimi":0.445,"Laser":0.549,"Laser-D":0.55},
{"p":15,"x":810,"Truncate":0.53,"Kimi":0.451,"Laser":0.553,"Laser-D":0.544},
{"p":16,"x":0,"Truncate":0.212,"Kimi":0.222,"Laser":0.222,"Laser-D":0.222},
{"p":16,"x":40,"Truncate":0.29,"Kimi":0.29,"Laser":0.265,"Laser-D":0.27},
{"p":16,"x":80,"Truncate":0.37,"Kimi":0.365,"Laser":0.32,"Laser-D":0.323},
{"p":16,"x":120,"Truncate":0.434,"Kimi":0.4,"Laser":0.345,"Laser-D":0.348},
{"p":16,"x":160,"Truncate":0.455,"Kimi":0.44,"Laser":0.38,"Laser-D":0.378},
{"p":16,"x":200,"Truncate":0.476,"Kimi":0.49,"Laser":0.41,"Laser-D":0.386},
{"p":16,"x":240,"Truncate":0.479,"Kimi":0.616,"Laser":0.403,"Laser-D":0.414},
{"p":16,"x":280,"Truncate":0.488,"Kimi":0.628,"Laser":0.423,"Laser-D":0.409},
{"p":16,"x":320,"Truncate":0.493,"Kimi":0.628,"Laser":0.432,"Laser-D":0.446},
{"p":16,"x":360,"Truncate":0.499,"Kimi":0.613,"Laser":0.44,"Laser-D":0.434},
{"p":16,"x":400,"Truncate":0.514,"Kimi":0.614,"Laser":0.438,"Laser-D":0.444},
{"p":16,"x":440,"Truncate":0.499,"Kimi":0.61,"Laser":0.459,"Laser-D":0.45},
{"p":16,"x":480,"Truncate":0.519,"Kimi":0.61,"Laser":0.458,"Laser-D":0.465},
{"p":16,"x":520,"Truncate":0.498,"Kimi":0.618,"Laser":0.47,"Laser-D":0.448},
{"p":16,"x":560,"Truncate":0.499,"Kimi":0.636,"Laser":0.464,"Laser-D":0.453},
{"p":16,"x":600,"Truncate":0.512,"Kimi":0.626,"Laser":0.472,"Laser-D":0.462},
{"p":16,"x":640,"Truncate":0.498,"Kimi":0.616,"Laser":0.486,"Laser-D":0.468},
{"p":16,"x":680,"Truncate":0.515,"Kimi":0.632,"Laser":0.475,"Laser-D":0.461},
{"p":16,"x":720,"Truncate":0.514,"Kimi":0.618,"Laser":0.47,"Laser-D":0.46},
{"p":16,"x":760,"Truncate":0.514,"Kimi":0.61,"Laser":0.472,"Laser-D":0.481},
{"p":16,"x":800,"Truncate":0.51,"Kimi":0.611,"Laser":0.47,"Laser-D":0.479},
{"p":16,"x":810,"Truncate":0.508,"Kimi":0.6,"Laser":0.482,"Laser-D":0.477},
{"p":17,"x":0,"Truncate":0.45,"Kimi":0.451,"Laser":0.451,"Laser-D":0.451},
{"p":17,"x":40,"Truncate":0.52,"Kimi":0.505,"Laser":0.49,"Laser-D":0.49},
{"p":17,"x":80,"Truncate":0.592,"Kimi":0.55,"Laser":0.54,"Laser-D":0.547},
{"p":17,"x":120,"Truncate":0.617,"Kimi":0.6,"Laser":0.558,"Laser-D":0.565},
{"p":17,"x":160,"Truncate":0.642,"Kimi":0.625,"Laser":0.59,"Laser-D":0.593},
{"p":17,"x":200,"Truncate":0.667,"Kimi":0.66,"Laser":0.625,"Laser-D":0.625},
{"p":17,"x":240,"Truncate":0.657,"Kimi":0.686,"Laser":0.633,"Laser-D":0.625},
{"p":17,"x":280,"Truncate":0.665,"Kimi":0.698,"Laser":0.635,"Laser-D":0.624},
{"p":17,"x":320,"Truncate":0.68,"Kimi":0.66,"Laser":0.635,"Laser-D":0.641},
{"p":17,"x":360,"Truncate":0.671,"Kimi":0.659,"Laser":0.633,"Laser-D":0.631},
{"p":17,"x":400,"Truncate":0.678,"Kimi":0.665,"Laser":0.65,"Laser-D":0.642},
{"p":17,"x":440,"Truncate":0.693,"Kimi":0.664,"Laser":0.658,"Laser-D":0.659},
{"p":17,"x":480,"Truncate":0.685,"Kimi":0.669,"Laser":0.647,"Laser-D":0.661},
{"p":17,"x":520,"Truncate":0.676,"Kimi":0.668,"Laser":0.662,"Laser-D":0.658},
{"p":17,"x":560,"Truncate":0.676,"Kimi":0.689,"Laser":0.658,"Laser-D":0.649},
{"p":17,"x":600,"Truncate":0.687,"Kimi":0.68,"Laser":0.671,"Laser-D":0.654},
{"p":17,"x":640,"Truncate":0.677,"Kimi":0.668,"Laser":0.677,"Laser-D":0.668},
{"p":17,"x":680,"Truncate":0.688,"Kimi":0.67,"Laser":0.678,"Laser-D":0.664},
{"p":17,"x":720,"Truncate":0.687,"Kimi":0.669,"Laser":0.665,"Laser-D":0.665},
{"p":17,"x":760,"Truncate":0.68,"Kimi":0.651,"Laser":0.676,"Laser-D":0.661},
{"p":17,"x":800,"Truncate":0.698,"Kimi":0.663,"Laser":0.662,"Laser-D":0.662},
{"p":17,"x":810,"Truncate":0.685,"Kimi":0.662,"Laser":0.67,"Laser-D":0.676},
{"p":18,"x":0,"Truncate":0.608,"Kimi":0.6,"Laser":0.6,"Laser-D":0.599},
{"p":18,"x":40,"Truncate":0.66,"Kimi":0.651,"Laser":0.625,"Laser-D":0.64},
{"p":18,"x":80,"Truncate":0.702,"Kimi":0.668,"Laser":0.665,"Laser-D":0.67},
{"p":18,"x":120,"Truncate":0.708,"Kimi":0.688,"Laser":0.688,"Laser-D":0.683},
{"p":18,"x":160,"Truncate":0.7,"Kimi":0.707,"Laser":0.705,"Laser-D":0.695},
{"p":18,"x":200,"Truncate":0.706,"Kimi":0.713,"Laser":0.711,"Laser-D":0.717},
{"p":18,"x":240,"Truncate":0.724,"Kimi":0.724,"Laser":0.711,"Laser-D":0.713},
{"p":18,"x":280,"Truncate":0.712,"Kimi":0.705,"Laser":0.703,"Laser-D":0.707},
{"p":18,"x":320,"Truncate":0.723,"Kimi":0.694,"Laser":0.712,"Laser-D":0.713},
{"p":18,"x":360,"Truncate":0.703,"Kimi":0.683,"Laser":0.708,"Laser-D":0.716},
{"p":18,"x":400,"Truncate":0.727,"Kimi":0.689,"Laser":0.716,"Laser-D":0.716},
{"p":18,"x":440,"Truncate":0.724,"Kimi":0.689,"Laser":0.725,"Laser-D":0.727},
{"p":18,"x":480,"Truncate":0.721,"Kimi":0.694,"Laser":0.716,"Laser-D":0.721},
{"p":18,"x":520,"Truncate":0.717,"Kimi":0.697,"Laser":0.73,"Laser-D":0.723},
{"p":18,"x":560,"Truncate":0.717,"Kimi":0.715,"Laser":0.716,"Laser-D":0.725},
{"p":18,"x":600,"Truncate":0.73,"Kimi":0.703,"Laser":0.74,"Laser-D":0.72},
{"p":18,"x":640,"Truncate":0.73,"Kimi":0.691,"Laser":0.734,"Laser-D":0.734},
{"p":18,"x":680,"Truncate":0.728,"Kimi":0.703,"Laser":0.747,"Laser-D":0.735},
{"p":18,"x":720,"Truncate":0.729,"Kimi":0.687,"Laser":0.727,"Laser-D":0.722},
{"p":18,"x":760,"Truncate":0.722,"Kimi":0.681,"Laser":0.736,"Laser-D":0.732},
{"p":18,"x":800,"Truncate":0.741,"Kimi":0.692,"Laser":0.73,"Laser-D":0.732},
{"p":18,"x":810,"Truncate":0.724,"Kimi":0.683,"Laser":0.723,"Laser-D":0.738},
{"p":19,"x":0,"Truncate":0.702,"Kimi":0.687,"Laser":0.687,"Laser-D":0.687},
{"p":19,"x":40,"Truncate":0.735,"Kimi":0.722,"Laser":0.695,"Laser-D":0.695},
{"p":19,"x":80,"Truncate":0.739,"Kimi":0.722,"Laser":0.718,"Laser-D":0.726},
{"p":19,"x":120,"Truncate":0.731,"Kimi":0.725,"Laser":0.726,"Laser-D":0.735},
{"p":19,"x":160,"Truncate":0.724,"Kimi":0.733,"Laser":0.745,"Laser-D":0.725},
{"p":19,"x":200,"Truncate":0.713,"Kimi":0.733,"Laser":0.747,"Laser-D":0.753},
{"p":19,"x":240,"Truncate":0.732,"Kimi":0.727,"Laser":0.748,"Laser-D":0.742},
{"p":19,"x":280,"Truncate":0.721,"Kimi":0.72,"Laser":0.732,"Laser-D":0.729},
{"p":19,"x":320,"Truncate":0.729,"Kimi":0.702,"Laser":0.73,"Laser-D":0.735},
{"p":19,"x":360,"Truncate":0.711,"Kimi":0.684,"Laser":0.727,"Laser-D":0.738},
{"p":19,"x":400,"Truncate":0.732,"Kimi":0.704,"Laser":0.735,"Laser-D":0.726},
{"p":19,"x":440,"Truncate":0.729,"Kimi":0.704,"Laser":0.747,"Laser-D":0.744},
{"p":19,"x":480,"Truncate":0.726,"Kimi":0.701,"Laser":0.733,"Laser-D":0.738},
{"p":19,"x":520,"Truncate":0.723,"Kimi":0.702,"Laser":0.747,"Laser-D":0.738},
{"p":19,"x":560,"Truncate":0.723,"Kimi":0.725,"Laser":0.726,"Laser-D":0.747},
{"p":19,"x":600,"Truncate":0.732,"Kimi":0.704,"Laser":0.756,"Laser-D":0.732},
{"p":19,"x":640,"Truncate":0.732,"Kimi":0.702,"Laser":0.75,"Laser-D":0.741},
{"p":19,"x":680,"Truncate":0.733,"Kimi":0.71,"Laser":0.756,"Laser-D":0.747},
{"p":19,"x":720,"Truncate":0.736,"Kimi":0.696,"Laser":0.738,"Laser-D":0.733},
{"p":19,"x":760,"Truncate":0.726,"Kimi":0.692,"Laser":0.751,"Laser-D":0.747},
{"p":19,"x":800,"Truncate":0.743,"Kimi":0.698,"Laser":0.744,"Laser-D":0.744},
{"p":19,"x":810,"Truncate":0.726,"Kimi":0.698,"Laser":0.731,"Laser-D":0.747},
{"p":20,"x":0,"Truncate":0.727,"Kimi":0.716,"Laser":0.716,"Laser-D":0.716},
{"p":20,"x":40,"Truncate":0.758,"Kimi":0.733,"Laser":0.718,"Laser-D":0.714},
{"p":20,"x":80,"Truncate":0.75,"Kimi":0.729,"Laser":0.729,"Laser-D":0.735},
{"p":20,"x":120,"Truncate":0.731,"Kimi":0.729,"Laser":0.731,"Laser-D":0.738},
{"p":20,"x":160,"Truncate":0.725,"Kimi":0.735,"Laser":0.747,"Laser-D":0.727},
{"p":20,"x":200,"Truncate":0.714,"Kimi":0.733,"Laser":0.751,"Laser-D":0.754},
{"p":20,"x":240,"Truncate":0.732,"Kimi":0.729,"Laser":0.751,"Laser-D":0.743},
{"p":20,"x":280,"Truncate":0.721,"Kimi":0.72,"Laser":0.734,"Laser-D":0.73},
{"p":20,"x":320,"Truncate":0.729,"Kimi":0.702,"Laser":0.73,"Laser-D":0.739},
{"p":20,"x":360,"Truncate":0.713,"Kimi":0.686,"Laser":0.729,"Laser-D":0.738},
{"p":20,"x":400,"Truncate":0.732,"Kimi":0.704,"Laser":0.736,"Laser-D":0.726},
{"p":20,"x":440,"Truncate":0.729,"Kimi":0.704,"Laser":0.748,"Laser-D":0.744},
{"p":20,"x":480,"Truncate":0.726,"Kimi":0.701,"Laser":0.733,"Laser-D":0.738},
{"p":20,"x":520,"Truncate":0.723,"Kimi":0.704,"Laser":0.747,"Laser-D":0.738},
{"p":20,"x":560,"Truncate":0.723,"Kimi":0.725,"Laser":0.729,"Laser-D":0.747},
{"p":20,"x":600,"Truncate":0.732,"Kimi":0.704,"Laser":0.756,"Laser-D":0.732},
{"p":20,"x":640,"Truncate":0.732,"Kimi":0.702,"Laser":0.75,"Laser-D":0.742},
{"p":20,"x":680,"Truncate":0.735,"Kimi":0.71,"Laser":0.756,"Laser-D":0.748},
{"p":20,"x":720,"Truncate":0.736,"Kimi":0.696,"Laser":0.737,"Laser-D":0.733},
{"p":20,"x":760,"Truncate":0.726,"Kimi":0.692,"Laser":0.753,"Laser-D":0.747},
{"p":20,"x":800,"Truncate":0.744,"Kimi":0.698,"Laser":0.744,"Laser-D":0.744},
{"p":20,"x":810,"Truncate":0.726,"Kimi":0.698,"Laser":0.733,"Laser-D":0.747},
{"p":21,"x":0,"Truncate":0.101,"Kimi":0.101,"Laser":0.102,"Laser-D":0.102},
{"p":21,"x":40,"Truncate":0.118,"Kimi":0.112,"Laser":0.112,"Laser-D":0.12},
{"p":21,"x":80,"Truncate":0.135,"Kimi":0.13,"Laser":0.133,"Laser-D":0.122},
{"p":21,"x":120,"Truncate":0.158,"Kimi":0.148,"Laser":0.132,"Laser-D":0.135},
{"p":21,"x":160,"Truncate":0.16,"Kimi":0.145,"Laser":0.14,"Laser-D":0.14},
{"p":21,"x":200,"Truncate":0.168,"Kimi":0.16,"Laser":0.141,"Laser-D":0.141},
{"p":21,"x":240,"Truncate":0.164,"Kimi":0.172,"Laser":0.149,"Laser-D":0.151},
{"p":21,"x":280,"Truncate":0.167,"Kimi":0.182,"Laser":0.148,"Laser-D":0.142},
{"p":21,"x":320,"Truncate":0.165,"Kimi":0.174,"Laser":0.16,"Laser-D":0.16},
{"p":21,"x":360,"Truncate":0.171,"Kimi":0.173,"Laser":0.153,"Laser-D":0.151},
{"p":21,"x":400,"Truncate":0.171,"Kimi":0.18,"Laser":0.15,"Laser-D":0.144},
{"p":21,"x":440,"Truncate":0.169,"Kimi":0.181,"Laser":0.152,"Laser-D":0.15},
{"p":21,"x":480,"Truncate":0.164,"Kimi":0.18,"Laser":0.153,"Laser-D":0.146},
{"p":21,"x":520,"Truncate":0.167,"Kimi":0.191,"Laser":0.152,"Laser-D":0.152},
{"p":21,"x":560,"Truncate":0.173,"Kimi":0.185,"Laser":0.159,"Laser-D":0.157},
{"p":21,"x":600,"Truncate":0.17,"Kimi":0.185,"Laser":0.146,"Laser-D":0.145},
{"p":21,"x":640,"Truncate":0.165,"Kimi":0.184,"Laser":0.166,"Laser-D":0.151},
{"p":21,"x":680,"Truncate":0.163,"Kimi":0.185,"Laser":0.154,"Laser-D":0.147},
{"p":21,"x":720,"Truncate":0.15,"Kimi":0.182,"Laser":0.157,"Laser-D":0.15},
{"p":21,"x":760,"Truncate":0.15,"Kimi":0.186,"Laser":0.149,"Laser-D":0.151},
{"p":21,"x":800,"Truncate":0.16,"Kimi":0.189,"Laser":0.16,"Laser-D":0.146},
{"p":21,"x":810,"Truncate":0.153,"Kimi":0.186,"Laser":0.152,"Laser-D":0.159},
{"p":22,"x":0,"Truncate":0.175,"Kimi":0.166,"Laser":0.166,"Laser-D":0.165},
{"p":22,"x":40,"Truncate":0.192,"Kimi":0.194,"Laser":0.185,"Laser-D":0.188},
{"p":22,"x":80,"Truncate":0.216,"Kimi":0.191,"Laser":0.204,"Laser-D":0.212},
{"p":22,"x":120,"Truncate":0.222,"Kimi":0.226,"Laser":0.207,"Laser-D":0.21},
{"p":22,"x":160,"Truncate":0.231,"Kimi":0.218,"Laser":0.215,"Laser-D":0.215},
{"p":22,"x":200,"Truncate":0.229,"Kimi":0.23,"Laser":0.225,"Laser-D":0.208},
{"p":22,"x":240,"Truncate":0.246,"Kimi":0.226,"Laser":0.225,"Laser-D":0.229},
{"p":22,"x":280,"Truncate":0.237,"Kimi":0.249,"Laser":0.233,"Laser-D":0.229},
{"p":22,"x":320,"Truncate":0.238,"Kimi":0.237,"Laser":0.238,"Laser-D":0.237},
{"p":22,"x":360,"Truncate":0.241,"Kimi":0.243,"Laser":0.238,"Laser-D":0.224},
{"p":22,"x":400,"Truncate":0.24,"Kimi":0.243,"Laser":0.226,"Laser-D":0.236},
{"p":22,"x":440,"Truncate":0.25,"Kimi":0.244,"Laser":0.236,"Laser-D":0.247},
{"p":22,"x":480,"Truncate":0.244,"Kimi":0.235,"Laser":0.245,"Laser-D":0.238},
{"p":22,"x":520,"Truncate":0.243,"Kimi":0.241,"Laser":0.241,"Laser-D":0.236},
{"p":22,"x":560,"Truncate":0.247,"Kimi":0.252,"Laser":0.236,"Laser-D":0.24},
{"p":22,"x":600,"Truncate":0.262,"Kimi":0.253,"Laser":0.237,"Laser-D":0.237},
{"p":22,"x":640,"Truncate":0.245,"Kimi":0.248,"Laser":0.244,"Laser-D":0.241},
{"p":22,"x":680,"Truncate":0.242,"Kimi":0.245,"Laser":0.247,"Laser-D":0.236},
{"p":22,"x":720,"Truncate":0.242,"Kimi":0.25,"Laser":0.239,"Laser-D":0.236},
{"p":22,"x":760,"Truncate":0.234,"Kimi":0.245,"Laser":0.244,"Laser-D":0.233},
{"p":22,"x":800,"Truncate":0.242,"Kimi":0.255,"Laser":0.243,"Laser-D":0.24},
{"p":22,"x":810,"Truncate":0.249,"Kimi":0.248,"Laser":0.241,"Laser-D":0.257},
{"p":23,"x":0,"Truncate":0.246,"Kimi":0.225,"Laser":0.225,"Laser-D":0.224},
{"p":23,"x":40,"Truncate":0.247,"Kimi":0.252,"Laser":0.248,"Laser-D":0.244},
{"p":23,"x":80,"Truncate":0.251,"Kimi":0.238,"Laser":0.253,"Laser-D":0.25},
{"p":23,"x":120,"Truncate":0.251,"Kimi":0.256,"Laser":0.238,"Laser-D":0.246},
{"p":23,"x":160,"Truncate":0.248,"Kimi":0.243,"Laser":0.256,"Laser-D":0.253},
{"p":23,"x":200,"Truncate":0.256,"Kimi":0.256,"Laser":0.263,"Laser-D":0.245},
{"p":23,"x":240,"Truncate":0.27,"Kimi":0.255,"Laser":0.269,"Laser-D":0.261},
{"p":23,"x":280,"Truncate":0.257,"Kimi":0.262,"Laser":0.262,"Laser-D":0.25},
{"p":23,"x":320,"Truncate":0.267,"Kimi":0.262,"Laser":0.27,"Laser-D":0.261},
{"p":23,"x":360,"Truncate":0.267,"Kimi":0.271,"Laser":0.275,"Laser-D":0.261},
{"p":23,"x":400,"Truncate":0.264,"Kimi":0.269,"Laser":0.262,"Laser-D":0.271},
{"p":23,"x":440,"Truncate":0.268,"Kimi":0.268,"Laser":0.259,"Laser-D":0.274},
{"p":23,"x":480,"Truncate":0.273,"Kimi":0.252,"Laser":0.276,"Laser-D":0.264},
{"p":23,"x":520,"Truncate":0.267,"Kimi":0.263,"Laser":0.266,"Laser-D":0.273},
{"p":23,"x":560,"Truncate":0.275,"Kimi":0.274,"Laser":0.26,"Laser-D":0.268},
{"p":23,"x":600,"Truncate":0.28,"Kimi":0.279,"Laser":0.262,"Laser-D":0.265},
{"p":23,"x":640,"Truncate":0.271,"Kimi":0.275,"Laser":0.275,"Laser-D":0.287},
{"p":23,"x":680,"Truncate":0.269,"Kimi":0.272,"Laser":0.28,"Laser-D":0.263},
{"p":23,"x":720,"Truncate":0.26,"Kimi":0.274,"Laser":0.283,"Laser-D":0.275},
{"p":23,"x":760,"Truncate":0.263,"Kimi":0.273,"Laser":0.282,"Laser-D":0.269},
{"p":23,"x":800,"Truncate":0.282,"Kimi":0.276,"Laser":0.276,"Laser-D":0.274},
{"p":23,"x":810,"Truncate":0.275,"Kimi":0.281,"Laser":0.269,"Laser-D":0.289},
{"p":24,"x":0,"Truncate":0.2645,"Kimi":0.2495,"Laser":0.2495,"Laser-D":0.2495},
{"p":24,"x":40,"Truncate":0.268,"Kimi":0.266,"Laser":0.2555,"Laser-D":0.26},
{"p":24,"x":80,"Truncate":0.26,"Kimi":0.2495,"Laser":0.2665,"Laser-D":0.2635},
{"p":24,"x":120,"Truncate":0.2535,"Kimi":0.267,"Laser":0.2465,"Laser-D":0.2575},
{"p":24,"x":160,"Truncate":0.251,"Kimi":0.2505,"Laser":0.269,"Laser-D":0.263},
{"p":24,"x":200,"Truncate":0.2625,"Kimi":0.2625,"Laser":0.275,"Laser-D":0.2575},
{"p":24,"x":240,"Truncate":0.2735,"Kimi":0.2595,"Laser":0.27,"Laser-D":0.2675},
{"p":24,"x":280,"Truncate":0.26,"Kimi":0.2695,"Laser":0.268,"Laser-D":0.2575},
{"p":24,"x":320,"Truncate":0.269,"Kimi":0.267,"Laser":0.277,"Laser-D":0.2655},
{"p":24,"x":360,"Truncate":0.2695,"Kimi":0.279,"Laser":0.28,"Laser-D":0.2725},
{"p":24,"x":400,"Truncate":0.2665,"Kimi":0.2735,"Laser":0.2675,"Laser-D":0.279},
{"p":24,"x":440,"Truncate":0.269,"Kimi":0.274,"Laser":0.266,"Laser-D":0.279},
{"p":24,"x":480,"Truncate":0.2765,"Kimi":0.261,"Laser":0.289,"Laser-D":0.269},
{"p":24,"x":520,"Truncate":0.2665,"Kimi":0.2735,"Laser":0.2725,"Laser-D":0.28},
{"p":24,"x":560,"Truncate":0.274,"Kimi":0.2835,"Laser":0.266,"Laser-D":0.2755},
{"p":24,"x":600,"Truncate":0.282,"Kimi":0.2875,"Laser":0.2655,"Laser-D":0.271},
{"p":24,"x":640,"Truncate":0.2715,"Kimi":0.2855,"Laser":0.2835,"Laser-D":0.2925},
{"p":24,"x":680,"Truncate":0.2715,"Kimi":0.2785,"Laser":0.287,"Laser-D":0.2725},
{"p":24,"x":720,"Truncate":0.2625,"Kimi":0.28,"Laser":0.2865,"Laser-D":0.28},
{"p":24,"x":760,"Truncate":0.2645,"Kimi":0.2805,"Laser":0.2915,"Laser-D":0.276},
{"p":24,"x":800,"Truncate":0.2815,"Kimi":0.2855,"Laser":0.2825,"Laser-D":0.28},
{"p":24,"x":810,"Truncate":0.278,"Kimi":0.29,"Laser":0.273,"Laser-D":0.3},
{"p":25,"x":0,"Truncate":0.266,"Kimi":0.2495,"Laser":0.2495,"Laser-D":0.2495},
{"p":25,"x":40,"Truncate":0.268,"Kimi":0.266,"Laser":0.2555,"Laser-D":0.26},
{"p":25,"x":80,"Truncate":0.26,"Kimi":0.2495,"Laser":0.2665,"Laser-D":0.2635},
{"p":25,"x":120,"Truncate":0.2535,"Kimi":0.267,"Laser":0.2465,"Laser-D":0.2575},
{"p":25,"x":160,"Truncate":0.251,"Kimi":0.2505,"Laser":0.269,"Laser-D":0.263},
{"p":25,"x":200,"Truncate":0.2625,"Kimi":0.2625,"Laser":0.275,"Laser-D":0.2575},
{"p":25,"x":240,"Truncate":0.2735,"Kimi":0.2595,"Laser":0.27,"Laser-D":0.2675},
{"p":25,"x":280,"Truncate":0.26,"Kimi":0.2695,"Laser":0.268,"Laser-D":0.2575},
{"p":25,"x":320,"Truncate":0.269,"Kimi":0.267,"Laser":0.277,"Laser-D":0.2655},
{"p":25,"x":360,"Truncate":0.2695,"Kimi":0.279,"Laser":0.28,"Laser-D":0.2725},
{"p":25,"x":400,"Truncate":0.2665,"Kimi":0.2735,"Laser":0.2675,"Laser-D":0.279},
{"p":25,"x":440,"Truncate":0.269,"Kimi":0.274,"Laser":0.266,"Laser-D":0.279},
{"p":25,"x":480,"Truncate":0.2765,"Kimi":0.261,"Laser":0.289,"Laser-D":0.269},
{"p":25,"x":520,"Truncate":0.2665,"Kimi":0.2735,"Laser":0.2725,"Laser-D":0.28},
{"p":25,"x":560,"Truncate":0.274,"Kimi":0.2835,"Laser":0.266,"Laser-D":0.2755},
{"p":25,"x":600,"Truncate":0.282,"Kimi":0.2875,"Laser":0.2655,"Laser-D":0.271},
{"p":25,"x":640,"Truncate":0.2715,"Kimi":0.2855,"Laser":0.2835,"Laser-D":0.2925},
{"p":25,"x":680,"Truncate":0.2715,"Kimi":0.2785,"Laser":0.287,"Laser-D":0.2725},
{"p":25,"x":720,"Truncate":0.2625,"Kimi":0.28,"Laser":0.2865,"Laser-D":0.28},
{"p":25,"x":760,"Truncate":0.2645,"Kimi":0.2805,"Laser":0.2915,"Laser-D":0.276},
{"p":25,"x":800,"Truncate":0.2815,"Kimi":0.2855,"Laser":0.2825,"Laser-D":0.28},
{"p":25,"x":810,"Truncate":0.278,"Kimi":0.29,"Laser":0.273,"Laser-D":0.3},
{"p":26,"x":0,"Truncate":0.115,"Kimi":0.121,"Laser":0.121,"Laser-D":0.121},
{"p":26,"x":40,"Truncate":0.138,"Kimi":0.127,"Laser":0.132,"Laser-D":0.127},
{"p":26,"x":80,"Truncate":0.127,"Kimi":0.127,"Laser":0.138,"Laser-D":0.138},
{"p":26,"x":120,"Truncate":0.172,"Kimi":0.161,"Laser":0.138,"Laser-D":0.132},
{"p":26,"x":160,"Truncate":0.172,"Kimi":0.144,"Laser":0.149,"Laser-D":0.149},
{"p":26,"x":200,"Truncate":0.195,"Kimi":0.178,"Laser":0.167,"Laser-D":0.161},
{"p":26,"x":240,"Truncate":0.189,"Kimi":0.184,"Laser":0.149,"Laser-D":0.149},
{"p":26,"x":280,"Truncate":0.167,"Kimi":0.189,"Laser":0.149,"Laser-D":0.149},
{"p":26,"x":320,"Truncate":0.178,"Kimi":0.212,"Laser":0.161,"Laser-D":0.161},
{"p":26,"x":360,"Truncate":0.172,"Kimi":0.206,"Laser":0.161,"Laser-D":0.167},
{"p":26,"x":400,"Truncate":0.189,"Kimi":0.201,"Laser":0.155,"Laser-D":0.155},
{"p":26,"x":440,"Truncate":0.178,"Kimi":0.212,"Laser":0.149,"Laser-D":0.144},
{"p":26,"x":480,"Truncate":0.178,"Kimi":0.195,"Laser":0.161,"Laser-D":0.155},
{"p":26,"x":520,"Truncate":0.184,"Kimi":0.206,"Laser":0.167,"Laser-D":0.161},
{"p":26,"x":560,"Truncate":0.184,"Kimi":0.206,"Laser":0.178,"Laser-D":0.167},
{"p":26,"x":600,"Truncate":0.184,"Kimi":0.195,"Laser":0.172,"Laser-D":0.161},
{"p":26,"x":640,"Truncate":0.184,"Kimi":0.206,"Laser":0.178,"Laser-D":0.167},
{"p":26,"x":680,"Truncate":0.172,"Kimi":0.218,"Laser":0.178,"Laser-D":0.155},
{"p":26,"x":720,"Truncate":0.178,"Kimi":0.218,"Laser":0.155,"Laser-D":0.161},
{"p":26,"x":760,"Truncate":0.155,"Kimi":0.206,"Laser":0.161,"Laser-D":0.167},
{"p":26,"x":800,"Truncate":0.167,"Kimi":0.212,"Laser":0.161,"Laser-D":0.155},
{"p":26,"x":810,"Truncate":0.178,"Kimi":0.218,"Laser":0.155,"Laser-D":0.167},
{"p":27,"x":0,"Truncate":0.207,"Kimi":0.201,"Laser":0.201,"Laser-D":0.201},
{"p":27,"x":40,"Truncate":0.224,"Kimi":0.218,"Laser":0.218,"Laser-D":0.213},
{"p":27,"x":80,"Truncate":0.247,"Kimi":0.23,"Laser":0.213,"Laser-D":0.247},
{"p":27,"x":120,"Truncate":0.253,"Kimi":0.236,"Laser":0.253,"Laser-D":0.241},
{"p":27,"x":160,"Truncate":0.264,"Kimi":0.247,"Laser":0.236,"Laser-D":0.236},
{"p":27,"x":200,"Truncate":0.264,"Kimi":0.264,"Laser":0.241,"Laser-D":0.247},
{"p":27,"x":240,"Truncate":0.264,"Kimi":0.253,"Laser":0.253,"Laser-D":0.259},
{"p":27,"x":280,"Truncate":0.276,"Kimi":0.264,"Laser":0.259,"Laser-D":0.247},
{"p":27,"x":320,"Truncate":0.258,"Kimi":0.282,"Laser":0.264,"Laser-D":0.253},
{"p":27,"x":360,"Truncate":0.276,"Kimi":0.299,"Laser":0.27,"Laser-D":0.241},
{"p":27,"x":400,"Truncate":0.27,"Kimi":0.276,"Laser":0.259,"Laser-D":0.259},
{"p":27,"x":440,"Truncate":0.276,"Kimi":0.287,"Laser":0.276,"Laser-D":0.27},
{"p":27,"x":480,"Truncate":0.282,"Kimi":0.264,"Laser":0.293,"Laser-D":0.276},
{"p":27,"x":520,"Truncate":0.276,"Kimi":0.27,"Laser":0.27,"Laser-D":0.253},
{"p":27,"x":560,"Truncate":0.276,"Kimi":0.287,"Laser":0.27,"Laser-D":0.253},
{"p":27,"x":600,"Truncate":0.287,"Kimi":0.282,"Laser":0.282,"Laser-D":0.27},
{"p":27,"x":640,"Truncate":0.258,"Kimi":0.276,"Laser":0.276,"Laser-D":0.27},
{"p":27,"x":680,"Truncate":0.264,"Kimi":0.259,"Laser":0.253,"Laser-D":0.253},
{"p":27,"x":720,"Truncate":0.276,"Kimi":0.276,"Laser":0.27,"Laser-D":0.264},
{"p":27,"x":760,"Truncate":0.259,"Kimi":0.293,"Laser":0.264,"Laser-D":0.259},
{"p":27,"x":800,"Truncate":0.305,"Kimi":0.282,"Laser":0.253,"Laser-D":0.27},
{"p":27,"x":810,"Truncate":0.293,"Kimi":0.27,"Laser":0.247,"Laser-D":0.288},
{"p":28,"x":0,"Truncate":0.27,"Kimi":0.264,"Laser":0.264,"Laser-D":0.264},
{"p":28,"x":40,"Truncate":0.299,"Kimi":0.276,"Laser":0.276,"Laser-D":0.27},
{"p":28,"x":80,"Truncate":0.29,"Kimi":0.293,"Laser":0.287,"Laser-D":0.282},
{"p":28,"x":120,"Truncate":0.299,"Kimi":0.282,"Laser":0.282,"Laser-D":0.276},
{"p":28,"x":160,"Truncate":0.31,"Kimi":0.299,"Laser":0.299,"Laser-D":0.293},
{"p":28,"x":200,"Truncate":0.299,"Kimi":0.287,"Laser":0.31,"Laser-D":0.293},
{"p":28,"x":240,"Truncate":0.31,"Kimi":0.299,"Laser":0.339,"Laser-D":0.299},
{"p":28,"x":280,"Truncate":0.299,"Kimi":0.29,"Laser":0.276,"Laser-D":0.27},
{"p":28,"x":320,"Truncate":0.322,"Kimi":0.31,"Laser":0.345,"Laser-D":0.282},
{"p":28,"x":360,"Truncate":0.305,"Kimi":0.339,"Laser":0.325,"Laser-D":0.293},
{"p":28,"x":400,"Truncate":0.328,"Kimi":0.316,"Laser":0.299,"Laser-D":0.316},
{"p":28,"x":440,"Truncate":0.31,"Kimi":0.322,"Laser":0.316,"Laser-D":0.287},
{"p":28,"x":480,"Truncate":0.345,"Kimi":0.299,"Laser":0.333,"Laser-D":0.322},
{"p":28,"x":520,"Truncate":0.339,"Kimi":0.31,"Laser":0.31,"Laser-D":0.299},
{"p":28,"x":560,"Truncate":0.31,"Kimi":0.293,"Laser":0.322,"Laser-D":0.287},
{"p":28,"x":600,"Truncate":0.333,"Kimi":0.328,"Laser":0.316,"Laser-D":0.322},
{"p":28,"x":640,"Truncate":0.333,"Kimi":0.311,"Laser":0.305,"Laser-D":0.339},
{"p":28,"x":680,"Truncate":0.318,"Kimi":0.305,"Laser":0.339,"Laser-D":0.293},
{"p":28,"x":720,"Truncate":0.299,"Kimi":0.299,"Laser":0.316,"Laser-D":0.328},
{"p":28,"x":760,"Truncate":0.299,"Kimi":0.328,"Laser":0.322,"Laser-D":0.31},
{"p":28,"x":800,"Truncate":0.322,"Kimi":0.333,"Laser":0.299,"Laser-D":0.322},
{"p":28,"x":810,"Truncate":0.345,"Kimi":0.328,"Laser":0.305,"Laser-D":0.322},
{"p":29,"x":0,"Truncate":0.333,"Kimi":0.293,"Laser":0.293,"Laser-D":0.293},
{"p":29,"x":40,"Truncate":0.327,"Kimi":0.293,"Laser":0.31,"Laser-D":0.299},
{"p":29,"x":80,"Truncate":0.31,"Kimi":0.327,"Laser":0.31,"Laser-D":0.31},
{"p":29,"x":120,"Truncate":0.31,"Kimi":0.293,"Laser":0.305,"Laser-D":0.299},
{"p":29,"x":160,"Truncate":0.322,"Kimi":0.305,"Laser":0.333,"Laser-D":0.322},
{"p":29,"x":200,"Truncate":0.322,"Kimi":0.305,"Laser":0.322,"Laser-D":0.327},
{"p":29,"x":240,"Truncate":0.322,"Kimi":0.31,"Laser":0.345,"Laser-D":0.316},
{"p":29,"x":280,"Truncate":0.31,"Kimi":0.305,"Laser":0.293,"Laser-D":0.276},
{"p":29,"x":320,"Truncate":0.333,"Kimi":0.316,"Laser":0.356,"Laser-D":0.299},
{"p":29,"x":360,"Truncate":0.316,"Kimi":0.345,"Laser":0.327,"Laser-D":0.316},
{"p":29,"x":400,"Truncate":0.339,"Kimi":0.333,"Laser":0.31,"Laser-D":0.333},
{"p":29,"x":440,"Truncate":0.316,"Kimi":0.339,"Laser":0.339,"Laser-D":0.305},
{"p":29,"x":480,"Truncate":0.35,"Kimi":0.316,"Laser":0.373,"Laser-D":0.345},
{"p":29,"x":520,"Truncate":0.35,"Kimi":0.322,"Laser":0.333,"Laser-D":0.31},
{"p":29,"x":560,"Truncate":0.316,"Kimi":0.322,"Laser":0.339,"Laser-D":0.316},
{"p":29,"x":600,"Truncate":0.333,"Kimi":0.345,"Laser":0.327,"Laser-D":0.333},
{"p":29,"x":640,"Truncate":0.333,"Kimi":0.339,"Laser":0.322,"Laser-D":0.35},
{"p":29,"x":680,"Truncate":0.31,"Kimi":0.322,"Laser":0.362,"Laser-D":0.322},
{"p":29,"x":720,"Truncate":0.316,"Kimi":0.31,"Laser":0.322,"Laser-D":0.35},
{"p":29,"x":760,"Truncate":0.305,"Kimi":0.35,"Laser":0.35,"Laser-D":0.322},
{"p":29,"x":800,"Truncate":0.327,"Kimi":0.345,"Laser":0.327,"Laser-D":0.327},
{"p":29,"x":810,"Truncate":0.339,"Kimi":0.339,"Laser":0.31,"Laser-D":0.356},
{"p":30,"x":0,"Truncate":0.333,"Kimi":0.293,"Laser":0.293,"Laser-D":0.293},
{"p":30,"x":40,"Truncate":0.327,"Kimi":0.293,"Laser":0.316,"Laser-D":0.299},
{"p":30,"x":80,"Truncate":0.31,"Kimi":0.327,"Laser":0.31,"Laser-D":0.31},
{"p":30,"x":120,"Truncate":0.31,"Kimi":0.293,"Laser":0.305,"Laser-D":0.299},
{"p":30,"x":160,"Truncate":0.322,"Kimi":0.305,"Laser":0.333,"Laser-D":0.322},
{"p":30,"x":200,"Truncate":0.322,"Kimi":0.305,"Laser":0.322,"Laser-D":0.327},
{"p":30,"x":240,"Truncate":0.322,"Kimi":0.31,"Laser":0.345,"Laser-D":0.316},
{"p":30,"x":280,"Truncate":0.31,"Kimi":0.305,"Laser":0.293,"Laser-D":0.282},
{"p":30,"x":320,"Truncate":0.333,"Kimi":0.316,"Laser":0.356,"Laser-D":0.299},
{"p":30,"x":360,"Truncate":0.316,"Kimi":0.345,"Laser":0.327,"Laser-D":0.322},
{"p":30,"x":400,"Truncate":0.339,"Kimi":0.339,"Laser":0.31,"Laser-D":0.333},
{"p":30,"x":440,"Truncate":0.316,"Kimi":0.339,"Laser":0.339,"Laser-D":0.305},
{"p":30,"x":480,"Truncate":0.35,"Kimi":0.316,"Laser":0.373,"Laser-D":0.345},
{"p":30,"x":520,"Truncate":0.35,"Kimi":0.322,"Laser":0.333,"Laser-D":0.31},
{"p":30,"x":560,"Truncate":0.316,"Kimi":0.322,"Laser":0.339,"Laser-D":0.316},
{"p":30,"x":600,"Truncate":0.333,"Kimi":0.345,"Laser":0.327,"Laser-D":0.333},
{"p":30,"x":640,"Truncate":0.333,"Kimi":0.345,"Laser":0.322,"Laser-D":0.35},
{"p":30,"x":680,"Truncate":0.31,"Kimi":0.322,"Laser":0.362,"Laser-D":0.322},
{"p":30,"x":720,"Truncate":0.316,"Kimi":0.316,"Laser":0.322,"Laser-D":0.35},
{"p":30,"x":760,"Truncate":0.305,"Kimi":0.35,"Laser":0.35,"Laser-D":0.322},
{"p":30,"x":800,"Truncate":0.327,"Kimi":0.345,"Laser":0.327,"Laser-D":0.327},
{"p":30,"x":810,"Truncate":0.35,"Kimi":0.339,"Laser":0.31,"Laser-D":0.356}
]},
"transform":[{"fold":["Truncate","Kimi","Laser","Laser-D"],"as":["s","y"]}],
"concat":[
{"title":"Minerva Mean@8 (2k)","height":269,"transform":[{"filter":"datum.p==1"}],"mark":"line","encoding":{"x":{"field":"x","type":"quantitative","scale":{"domain":[-40.5,850.5],"nice":false},"title":null},"y":{"field":"y","type":"quantitative","scale":{"zero":false,"nice":false,"padding":12},"axis":{"values":[0.15,0.175,0.2,0.225,0.25,0.275,0.3,0.325],"format":".3f"},"title":null},"color":{"field":"s","type":"nominal","scale":{"domain":["Truncate","Kimi","Laser","Laser-D"],"range":["#1f77b4","#ff7f0e","#2ca02c","#d62728"]},"title":null}}},
{"title":"Minerva Mean@8 (4k)","height":269,"transform":[{"filter":"datum.p==2"}],"mark":"line","encoding":{"x":{"field":"x","type":"quantitative","scale":{"domain":[-40.5,850.5],"nice":false},"title":null},"y":{"field":"y","type":"quantitative","scale":{"zero":false,"nice":false,"padding":12},"axis":{"values":[0.24,0.26,0.28,0.3,0.32,0.34],"format":".2f"},"title":null},"color":{"field":"s","type":"nominal","scale":{"domain":["Truncate","Kimi","Laser","Laser-D"],"range":["#1f77b4","#ff7f0e","#2ca02c","#d62728"]},"title":null}}},
{"title":"Minerva Mean@8 (8k)","height":269,"transform":[{"filter":"datum.p==3"}],"mark":"line","encoding":{"x":{"field":"x","type":"quantitative","scale":{"domain":[-40.5,850.5],"nice":false},"title":null},"y":{"field":"y","type":"quantitative","scale":{"zero":false,"nice":false,"padding":12},"axis":{"values":[0.24,0.26,0.28,0.3,0.32,0.34,0.36],"format":".2f"},"title":null},"color":{"field":"s","type":"nominal","scale":{"domain":["Truncate","Kimi","Laser","Laser-D"],"range":["#1f77b4","#ff7f0e","#2ca02c","#d62728"]},"title":null}}},
{"title":"Minerva Mean@8 (16k)","height":269,"transform":[{"filter":"datum.p==4"}],"mark":"line","encoding":{"x":{"field":"x","type":"quantitative","scale":{"domain":[-40.5,850.5],"nice":false},"title":null},"y":{"field":"y","type":"quantitative","scale":{"zero":false,"nice":false,"padding":12},"axis":{"values":[0.24,0.26,0.28,0.3,0.32,0.34,0.36],"format":".2f"},"title":null},"color":{"field":"s","type":"nominal","scale":{"domain":["Truncate","Kimi","Laser","Laser-D"],"range":["#1f77b4","#ff7f0e","#2ca02c","#d62728"]},"title":null}}},
{"title":"Minerva Mean@8 (32k)","height":269,"transform":[{"filter":"datum.p==5"}],"mark":"line","encoding":{"x":{"field":"x","type":"quantitative","scale":{"domain":[-40.5,850.5],"nice":false},"title":null},"y":{"field":"y","type":"quantitative","scale":{"zero":false,"nice":false,"padding":12},"axis":{"values":[0.24,0.26,0.28,0.3,0.32,0.34,0.36],"format":".2f"},"title":null},"color":{"field":"s","type":"nominal","scale":{"domain":["Truncate","Kimi","Laser","Laser-D"],"range":["#1f77b4","#ff7f0e","#2ca02c","#d62728"]},"title":null}}},
{"title":"Minerva Pass@8 (2k)","transform":[{"filter":"datum.p==6"}],"mark":"line","encoding":{"x":{"field":"x","type":"quantitative","scale":{"domain":[-40.5,850.5],"nice":false},"title":null},"y":{"field":"y","type":"quantitative","scale":{"zero":false,"nice":false,"padding":11},"axis":{"values":[0.3,0.325,0.35,0.375,0.4,0.425,0.45,0.475],"format":".3f"},"title":null},"color":{"field":"s","type":"nominal","scale":{"domain":["Truncate","Kimi","Laser","Laser-D"],"range":["#1f77b4","#ff7f0e","#2ca02c","#d62728"]},"title":null}}},
{"title":"Minerva Pass@8 (4k)","transform":[{"filter":"datum.p==7"}],"mark":"line","encoding":{"x":{"field":"x","type":"quantitative","scale":{"domain":[-40.5,850.5],"nice":false},"title":null},"y":{"field":"y","type":"quantitative","scale":{"zero":false,"nice":false,"padding":11},"axis":{"values":[0.42,0.44,0.46,0.48,0.5,0.52],"format":".2f"},"title":null},"color":{"field":"s","type":"nominal","scale":{"domain":["Truncate","Kimi","Laser","Laser-D"],"range":["#1f77b4","#ff7f0e","#2ca02c","#d62728"]},"title":null}}},
{"title":"Minerva Pass@8 (8k)","transform":[{"filter":"datum.p==8"}],"mark":"line","encoding":{"x":{"field":"x","type":"quantitative","scale":{"domain":[-40.5,850.5],"nice":false},"title":null},"y":{"field":"y","type":"quantitative","scale":{"zero":false,"nice":false,"padding":11},"axis":{"values":[0.42,0.44,0.46,0.48,0.5,0.52],"format":".2f"},"title":null},"color":{"field":"s","type":"nominal","scale":{"domain":["Truncate","Kimi","Laser","Laser-D"],"range":["#1f77b4","#ff7f0e","#2ca02c","#d62728"]},"title":null}}},
{"title":"Minerva Pass@8 (16k)","transform":[{"filter":"datum.p==9"}],"mark":"line","encoding":{"x":{"field":"x","type":"quantitative","scale":{"domain":[-40.5,850.5],"nice":false},"title":null},"y":{"field":"y","type":"quantitative","scale":{"zero":false,"nice":false,"padding":11},"axis":{"values":[0.42,0.44,0.46,0.48,0.5,0.52],"format":".2f"},"title":null},"color":{"field":"s","type":"nominal","scale":{"domain":["Truncate","Kimi","Laser","Laser-D"],"range":["#1f77b4","#ff7f0e","#2ca02c","#d62728"]},"title":null}}},
{"title":"Minerva Pass@8 (32k)","transform":[{"filter":"datum.p==10"}],"mark":"line","encoding":{"x":{"field":"x","type":"quantitative","scale":{"domain":[-40.5,850.5],"nice":false},"title":null},"y":{"field":"y","type":"quantitative","scale":{"zero":false,"nice":false,"padding":11},"axis":{"values":[0.42,0.44,0.46,0.48,0.5,0.52],"format":".2f"},"title":null},"color":{"field":"s","type":"nominal","scale":{"domain":["Truncate","Kimi","Laser","Laser-D"],"range":["#1f77b4","#ff7f0e","#2ca02c","#d62728"]},"title":null}}},
{"title":"Olympiad Mean@8 (2k)","transform":[{"filter":"datum.p==11"}],"mark":"line","encoding":{"x":{"field":"x","type":"quantitative","scale":{"domain":[-40.5,850.5],"nice":false},"title":null},"y":{"field":"y","type":"quantitative","scale":{"zero":false,"nice":false,"padding":11},"axis":{"values":[0.1,0.15,0.2,0.25,0.3,0.35,0.4],"format":".2f"},"title":null},"color":{"field":"s","type":"nominal","scale":{"domain":["Truncate","Kimi","Laser","Laser-D"],"range":["#1f77b4","#ff7f0e","#2ca02c","#d62728"]},"title":null}}},
{"title":"Olympiad Mean@8 (4k)","transform":[{"filter":"datum.p==12"}],"mark":"line","encoding":{"x":{"field":"x","type":"quantitative","scale":{"domain":[-40.5,850.5],"nice":false},"title":null},"y":{"field":"y","type":"quantitative","scale":{"zero":false,"nice":false,"padding":11},"axis":{"values":[0.3,0.35,0.4,0.45,0.5],"format":".2f"},"title":null},"color":{"field":"s","type":"nominal","scale":{"domain":["Truncate","Kimi","Laser","Laser-D"],"range":["#1f77b4","#ff7f0e","#2ca02c","#d62728"]},"title":null}}},
{"title":"Olympiad Mean@8 (8k)","transform":[{"filter":"datum.p==13"}],"mark":"line","encoding":{"x":{"field":"x","type":"quantitative","scale":{"domain":[-40.5,850.5],"nice":false},"title":null},"y":{"field":"y","type":"quantitative","scale":{"zero":false,"nice":false,"padding":11},"axis":{"values":[0.42,0.44,0.46,0.48,0.5,0.52,0.54],"format":".2f"},"title":null},"color":{"field":"s","type":"nominal","scale":{"domain":["Truncate","Kimi","Laser","Laser-D"],"range":["#1f77b4","#ff7f0e","#2ca02c","#d62728"]},"title":null}}},
{"title":"Olympiad Mean@8 (16k)","transform":[{"filter":"datum.p==14"}],"mark":"line","encoding":{"x":{"field":"x","type":"quantitative","scale":{"domain":[-40.5,850.5],"nice":false},"title":null},"y":{"field":"y","type":"quantitative","scale":{"zero":false,"nice":false,"padding":11},"axis":{"values":[0.42,0.44,0.46,0.48,0.5,0.52,0.54,0.56],"format":".2f"},"title":null},"color":{"field":"s","type":"nominal","scale":{"domain":["Truncate","Kimi","Laser","Laser-D"],"range":["#1f77b4","#ff7f0e","#2ca02c","#d62728"]},"title":null}}},
{"title":"Olympiad Mean@8 (32k)","transform":[{"filter":"datum.p==15"}],"mark":"line","encoding":{"x":{"field":"x","type":"quantitative","scale":{"domain":[-40.5,850.5],"nice":false},"title":null},"y":{"field":"y","type":"quantitative","scale":{"zero":false,"nice":false,"padding":11},"axis":{"values":[0.42,0.44,0.46,0.48,0.5,0.52,0.54,0.56],"format":".2f"},"title":null},"color":{"field":"s","type":"nominal","scale":{"domain":["Truncate","Kimi","Laser","Laser-D"],"range":["#1f77b4","#ff7f0e","#2ca02c","#d62728"]},"title":null}}},
{"title":"Olympiad Pass@8 (2k)","transform":[{"filter":"datum.p==16"}],"mark":"line","encoding":{"x":{"field":"x","type":"quantitative","scale":{"domain":[-40.5,850.5],"nice":false},"title":null},"y":{"field":"y","type":"quantitative","scale":{"zero":false,"nice":false,"padding":11},"axis":{"values":[0.2,0.3,0.4,0.5,0.6],"format":".1f"},"title":null},"color":{"field":"s","type":"nominal","scale":{"domain":["Truncate","Kimi","Laser","Laser-D"],"range":["#1f77b4","#ff7f0e","#2ca02c","#d62728"]},"title":null}}},
{"title":"Olympiad Pass@8 (4k)","transform":[{"filter":"datum.p==17"}],"mark":"line","encoding":{"x":{"field":"x","type":"quantitative","scale":{"domain":[-40.5,850.5],"nice":false},"title":null},"y":{"field":"y","type":"quantitative","scale":{"zero":false,"nice":false,"padding":11},"axis":{"values":[0.45,0.5,0.55,0.6,0.65,0.7],"format":".2f"},"title":null},"color":{"field":"s","type":"nominal","scale":{"domain":["Truncate","Kimi","Laser","Laser-D"],"range":["#1f77b4","#ff7f0e","#2ca02c","#d62728"]},"title":null}}},
{"title":"Olympiad Pass@8 (8k)","transform":[{"filter":"datum.p==18"}],"mark":"line","encoding":{"x":{"field":"x","type":"quantitative","scale":{"domain":[-40.5,850.5],"nice":false},"title":null},"y":{"field":"y","type":"quantitative","scale":{"zero":false,"nice":false,"padding":11},"axis":{"values":[0.6,0.625,0.65,0.675,0.7,0.725,0.75],"format":".3f"},"title":null},"color":{"field":"s","type":"nominal","scale":{"domain":["Truncate","Kimi","Laser","Laser-D"],"range":["#1f77b4","#ff7f0e","#2ca02c","#d62728"]},"title":null}}},
{"title":"Olympiad Pass@8 (16k)","transform":[{"filter":"datum.p==19"}],"mark":"line","encoding":{"x":{"field":"x","type":"quantitative","scale":{"domain":[-40.5,850.5],"nice":false},"title":null},"y":{"field":"y","type":"quantitative","scale":{"zero":false,"nice":false,"padding":11},"axis":{"values":[0.69,0.7,0.71,0.72,0.73,0.74,0.75],"format":".2f"},"title":null},"color":{"field":"s","type":"nominal","scale":{"domain":["Truncate","Kimi","Laser","Laser-D"],"range":["#1f77b4","#ff7f0e","#2ca02c","#d62728"]},"title":null}}},
{"title":"Olympiad Pass@8 (32k)","transform":[{"filter":"datum.p==20"}],"mark":"line","encoding":{"x":{"field":"x","type":"quantitative","scale":{"domain":[-40.5,850.5],"nice":false},"title":null},"y":{"field":"y","type":"quantitative","scale":{"zero":false,"nice":false,"padding":11},"axis":{"values":[0.69,0.7,0.71,0.72,0.73,0.74,0.75,0.76],"format":".2f"},"title":null},"color":{"field":"s","type":"nominal","scale":{"domain":["Truncate","Kimi","Laser","Laser-D"],"range":["#1f77b4","#ff7f0e","#2ca02c","#d62728"]},"title":null}}},
{"title":"LCB Mean@8 (2k)","transform":[{"filter":"datum.p==21"}],"mark":"line","encoding":{"x":{"field":"x","type":"quantitative","scale":{"domain":[-40.5,850.5],"nice":false},"title":null},"y":{"field":"y","type":"quantitative","scale":{"zero":false,"nice":false,"padding":11},"axis":{"values":[0.1,0.12,0.14,0.16,0.18],"format":".2f"},"title":null},"color":{"field":"s","type":"nominal","scale":{"domain":["Truncate","Kimi","Laser","Laser-D"],"range":["#1f77b4","#ff7f0e","#2ca02c","#d62728"]},"title":null}}},
{"title":"LCB Mean@8 (4k)","transform":[{"filter":"datum.p==22"}],"mark":"line","encoding":{"x":{"field":"x","type":"quantitative","scale":{"domain":[-40.5,850.5],"nice":false},"title":null},"y":{"field":"y","type":"quantitative","scale":{"zero":false,"nice":false,"padding":11},"axis":{"values":[0.18,0.2,0.22,0.24,0.26],"format":".2f"},"title":null},"color":{"field":"s","type":"nominal","scale":{"domain":["Truncate","Kimi","Laser","Laser-D"],"range":["#1f77b4","#ff7f0e","#2ca02c","#d62728"]},"title":null}}},
{"title":"LCB Mean@8 (8k)","transform":[{"filter":"datum.p==23"}],"mark":"line","encoding":{"x":{"field":"x","type":"quantitative","scale":{"domain":[-40.5,850.5],"nice":false},"title":null},"y":{"field":"y","type":"quantitative","scale":{"zero":false,"nice":false,"padding":11},"axis":{"values":[0.23,0.24,0.25,0.26,0.27,0.28,0.29],"format":".2f"},"title":null},"color":{"field":"s","type":"nominal","scale":{"domain":["Truncate","Kimi","Laser","Laser-D"],"range":["#1f77b4","#ff7f0e","#2ca02c","#d62728"]},"title":null}}},
{"title":"LCB Mean@8 (16k)","transform":[{"filter":"datum.p==24"}],"mark":"line","encoding":{"x":{"field":"x","type":"quantitative","scale":{"domain":[-40.5,850.5],"nice":false},"title":null},"y":{"field":"y","type":"quantitative","scale":{"zero":false,"nice":false,"padding":11},"axis":{"values":[0.25,0.26,0.27,0.28,0.29,0.3],"format":".2f"},"title":null},"color":{"field":"s","type":"nominal","scale":{"domain":["Truncate","Kimi","Laser","Laser-D"],"range":["#1f77b4","#ff7f0e","#2ca02c","#d62728"]},"title":null}}},
{"title":"LCB Mean@8 (32k)","transform":[{"filter":"datum.p==25"}],"mark":"line","encoding":{"x":{"field":"x","type":"quantitative","scale":{"domain":[-40.5,850.5],"nice":false},"title":null},"y":{"field":"y","type":"quantitative","scale":{"zero":false,"nice":false,"padding":11},"axis":{"values":[0.25,0.26,0.27,0.28,0.29,0.3],"format":".2f"},"title":null},"color":{"field":"s","type":"nominal","scale":{"domain":["Truncate","Kimi","Laser","Laser-D"],"range":["#1f77b4","#ff7f0e","#2ca02c","#d62728"]},"title":null}}},
{"title":"LCB Pass@8 (2k)","transform":[{"filter":"datum.p==26"}],"mark":"line","encoding":{"x":{"field":"x","type":"quantitative","scale":{"domain":[-40.5,850.5],"nice":false},"title":"Steps"},"y":{"field":"y","type":"quantitative","scale":{"zero":false,"nice":false,"padding":11},"axis":{"values":[0.12,0.14,0.16,0.18,0.2,0.22],"format":".2f"},"title":null},"color":{"field":"s","type":"nominal","scale":{"domain":["Truncate","Kimi","Laser","Laser-D"],"range":["#1f77b4","#ff7f0e","#2ca02c","#d62728"]},"title":null}}},
{"title":"LCB Pass@8 (4k)","transform":[{"filter":"datum.p==27"}],"mark":"line","encoding":{"x":{"field":"x","type":"quantitative","scale":{"domain":[-40.5,850.5],"nice":false},"title":"Steps"},"y":{"field":"y","type":"quantitative","scale":{"zero":false,"nice":false,"padding":11},"axis":{"values":[0.2,0.22,0.24,0.26,0.28,0.3],"format":".2f"},"title":null},"color":{"field":"s","type":"nominal","scale":{"domain":["Truncate","Kimi","Laser","Laser-D"],"range":["#1f77b4","#ff7f0e","#2ca02c","#d62728"]},"title":null}}},
{"title":"LCB Pass@8 (8k)","transform":[{"filter":"datum.p==28"}],"mark":"line","encoding":{"x":{"field":"x","type":"quantitative","scale":{"domain":[-40.5,850.5],"nice":false},"title":"Steps"},"y":{"field":"y","type":"quantitative","scale":{"zero":false,"nice":false,"padding":11},"axis":{"values":[0.28,0.3,0.32,0.34],"format":".2f"},"title":null},"color":{"field":"s","type":"nominal","scale":{"domain":["Truncate","Kimi","Laser","Laser-D"],"range":["#1f77b4","#ff7f0e","#2ca02c","#d62728"]},"title":null}}},
{"title":"LCB Pass@8 (16k)","transform":[{"filter":"datum.p==29"}],"mark":"line","encoding":{"x":{"field":"x","type":"quantitative","scale":{"domain":[-40.5,850.5],"nice":false},"title":"Steps"},"y":{"field":"y","type":"quantitative","scale":{"zero":false,"nice":false,"padding":11},"axis":{"values":[0.28,0.3,0.32,0.34,0.36],"format":".2f"},"title":null},"color":{"field":"s","type":"nominal","scale":{"domain":["Truncate","Kimi","Laser","Laser-D"],"range":["#1f77b4","#ff7f0e","#2ca02c","#d62728"]},"title":null}}},
{"title":"LCB Pass@8 (32k)","transform":[{"filter":"datum.p==30"}],"mark":"line","encoding":{"x":{"field":"x","type":"quantitative","scale":{"domain":[-40.5,850.5],"nice":false},"title":"Steps"},"y":{"field":"y","type":"quantitative","scale":{"zero":false,"nice":false,"padding":11},"axis":{"values":[0.28,0.3,0.32,0.34,0.36],"format":".2f"},"title":null},"color":{"field":"s","type":"nominal","scale":{"domain":["Truncate","Kimi","Laser","Laser-D"],"range":["#1f77b4","#ff7f0e","#2ca02c","#d62728"]},"title":null}}}
],
"title":{"text":["Figure 10:  Training dynamics of various reward shaping methods on Minerva Math, Olympiad Bench, and","LiveCodeBench."],"orient":"bottom","anchor":"start","frame":"bounds","font":"Liberation Serif","fontSize":30,"fontWeight":"normal","lineHeight":35,"offset":44,"dx":-22,"color":"#000"},
"config":{
"view":{"stroke":"#444","strokeWidth":1.3,"continuousWidth":214,"continuousHeight":239},
"line":{"strokeWidth":2.2},
"title":{"font":"DejaVu Sans","fontSize":16,"fontWeight":"bold","color":"#000","offset":3,"anchor":"middle","frame":"group"},
"axis":{"labelFont":"DejaVu Sans","labelFontSize":13.5,"labelColor":"#000","labelPadding":3,"labelOverlap":false,"labelFlush":false,"titleFont":"DejaVu Sans","titleFontSize":14.5,"titleFontWeight":"normal","titleColor":"#000","titlePadding":4,"tickColor":"#333","tickSize":4.5,"tickWidth":1,"domain":false,"grid":true,"gridColor":"#cfcfcf","gridDash":[4,3],"gridWidth":0.8},
"legend":{"orient":"none","legendX":366,"legendY":1757,"direction":"horizontal","symbolType":"M-1.6,0H1.6","symbolSize":484,"symbolOffset":12,"symbolStrokeWidth":2.2,"labelFont":"DejaVu Sans","labelFontSize":16,"labelColor":"#000","labelOffset":18.6,"columnPadding":21,"padding":3,"strokeColor":"#cccccc","cornerRadius":3,"fillColor":"white"}
}
}
